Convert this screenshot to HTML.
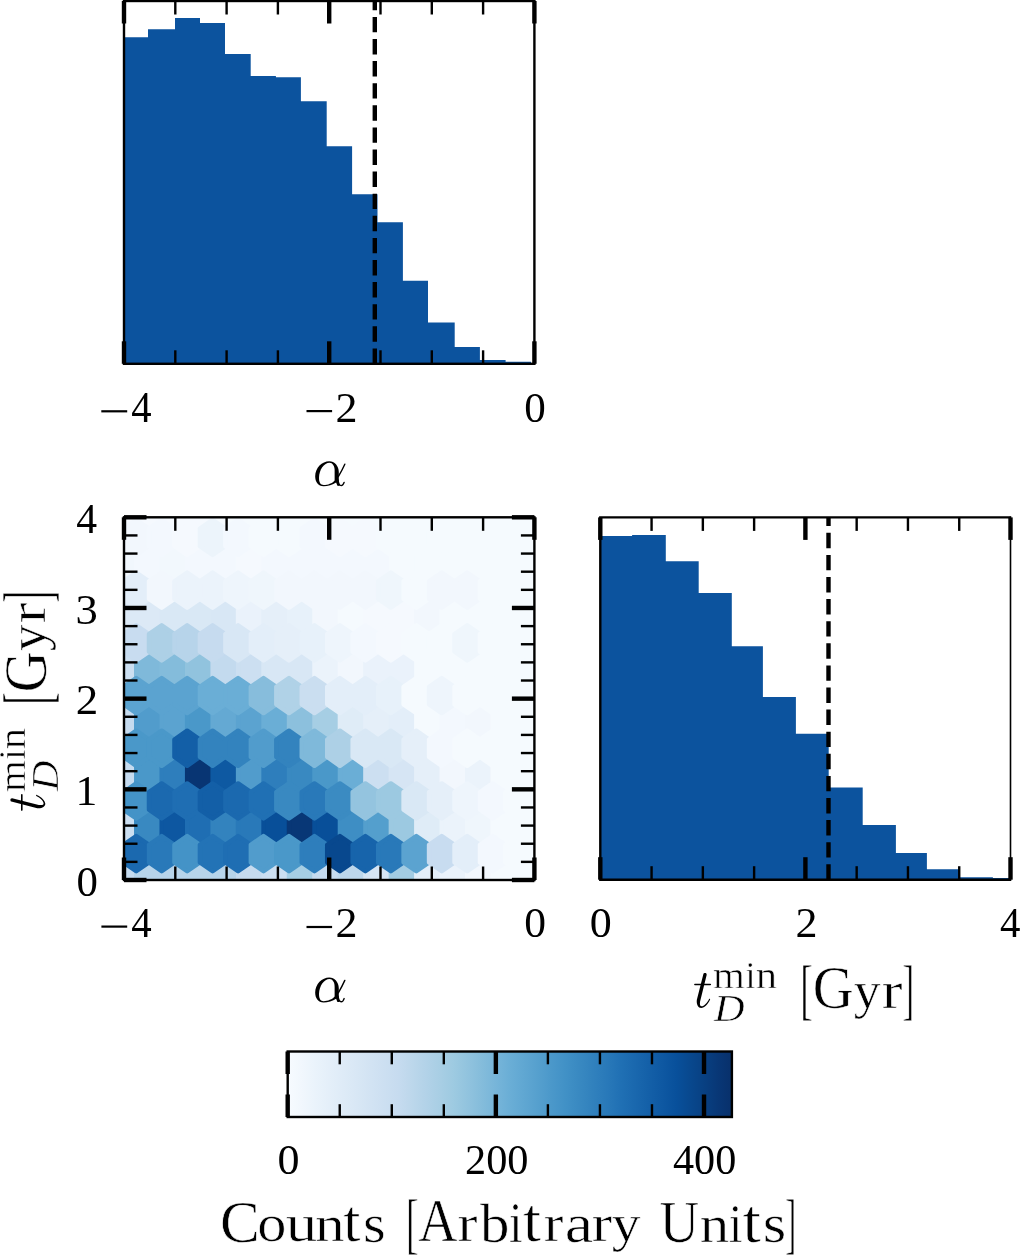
<!DOCTYPE html>
<html><head><meta charset="utf-8"><style>
html,body{margin:0;padding:0;background:#fff;}
svg{display:block;will-change:transform;}
</style></head><body>
<svg width="1020" height="1255" viewBox="0 0 1020 1255">
<defs><clipPath id="c1"><rect x="124.0" y="1.0" width="410.4" height="362.8"/></clipPath>
<clipPath id="c2"><rect x="124.0" y="517.3" width="410.4" height="362.7"/></clipPath>
<clipPath id="c3"><rect x="600.3" y="517.4" width="410.2" height="362.3"/></clipPath>
<linearGradient id="cg" x1="0" y1="0" x2="1" y2="0">
<stop offset="0.0000" stop-color="#f7fbff"/>
<stop offset="0.0312" stop-color="#f1f7fd"/>
<stop offset="0.0625" stop-color="#eaf3fb"/>
<stop offset="0.0938" stop-color="#e4eff9"/>
<stop offset="0.1250" stop-color="#deebf7"/>
<stop offset="0.1562" stop-color="#d8e7f5"/>
<stop offset="0.1875" stop-color="#d2e3f3"/>
<stop offset="0.2188" stop-color="#ccdff1"/>
<stop offset="0.2500" stop-color="#c6dbef"/>
<stop offset="0.2812" stop-color="#bcd7eb"/>
<stop offset="0.3125" stop-color="#b2d2e8"/>
<stop offset="0.3438" stop-color="#a8cee4"/>
<stop offset="0.3750" stop-color="#9dcae1"/>
<stop offset="0.4062" stop-color="#91c3de"/>
<stop offset="0.4375" stop-color="#84bcdb"/>
<stop offset="0.4688" stop-color="#77b5d9"/>
<stop offset="0.5000" stop-color="#6aaed6"/>
<stop offset="0.5312" stop-color="#60a7d2"/>
<stop offset="0.5625" stop-color="#56a0ce"/>
<stop offset="0.5938" stop-color="#4b98ca"/>
<stop offset="0.6250" stop-color="#4191c6"/>
<stop offset="0.6562" stop-color="#3989c1"/>
<stop offset="0.6875" stop-color="#3181bd"/>
<stop offset="0.7188" stop-color="#2979b9"/>
<stop offset="0.7500" stop-color="#2070b4"/>
<stop offset="0.7812" stop-color="#1a68ae"/>
<stop offset="0.8125" stop-color="#1460a8"/>
<stop offset="0.8438" stop-color="#0e58a2"/>
<stop offset="0.8750" stop-color="#08509b"/>
<stop offset="0.9062" stop-color="#08488e"/>
<stop offset="0.9375" stop-color="#084082"/>
<stop offset="0.9688" stop-color="#083776"/>
<stop offset="1.0000" stop-color="#08306b"/>
</linearGradient></defs>
<path d="M124.0,363.8 L124.0,37.2 L148.0,37.2 L148.0,29.3 L175.0,29.3 L175.0,18.0 L200.0,18.0 L200.0,23.0 L225.0,23.0 L225.0,54.0 L250.7,54.0 L250.7,76.1 L275.9,76.1 L275.9,77.2 L300.9,77.2 L300.9,101.3 L326.7,101.3 L326.7,146.2 L352.1,146.2 L352.1,194.2 L377.5,194.2 L377.5,222.2 L402.9,222.2 L402.9,280.7 L428.0,280.7 L428.0,322.4 L454.7,322.4 L454.7,346.9 L479.9,346.9 L479.9,360.0 L505.6,360.0 L505.6,361.8 L531.0,361.8 L531.0,363.8 Z" fill="#0c539e"/>
<line x1="374.8" y1="363.8" x2="374.8" y2="1.0" stroke="#000" stroke-width="4.4" stroke-dasharray="15.4 6.7"/>
<rect x="124.0" y="1.0" width="410.40" height="362.80" fill="none" stroke="#000" stroke-width="2.4"/>
<line x1="124.00" y1="363.8" x2="124.00" y2="341.3" stroke="#000" stroke-width="4.4"/>
<line x1="124.00" y1="1.0" x2="124.00" y2="23.5" stroke="#000" stroke-width="4.4"/>
<line x1="329.20" y1="363.8" x2="329.20" y2="341.3" stroke="#000" stroke-width="4.4"/>
<line x1="329.20" y1="1.0" x2="329.20" y2="23.5" stroke="#000" stroke-width="4.4"/>
<line x1="534.40" y1="363.8" x2="534.40" y2="341.3" stroke="#000" stroke-width="4.4"/>
<line x1="534.40" y1="1.0" x2="534.40" y2="23.5" stroke="#000" stroke-width="4.4"/>
<line x1="175.30" y1="363.8" x2="175.30" y2="350.3" stroke="#000" stroke-width="2.4"/>
<line x1="175.30" y1="1.0" x2="175.30" y2="14.5" stroke="#000" stroke-width="2.4"/>
<line x1="226.60" y1="363.8" x2="226.60" y2="350.3" stroke="#000" stroke-width="2.4"/>
<line x1="226.60" y1="1.0" x2="226.60" y2="14.5" stroke="#000" stroke-width="2.4"/>
<line x1="277.90" y1="363.8" x2="277.90" y2="350.3" stroke="#000" stroke-width="2.4"/>
<line x1="277.90" y1="1.0" x2="277.90" y2="14.5" stroke="#000" stroke-width="2.4"/>
<line x1="380.50" y1="363.8" x2="380.50" y2="350.3" stroke="#000" stroke-width="2.4"/>
<line x1="380.50" y1="1.0" x2="380.50" y2="14.5" stroke="#000" stroke-width="2.4"/>
<line x1="431.80" y1="363.8" x2="431.80" y2="350.3" stroke="#000" stroke-width="2.4"/>
<line x1="431.80" y1="1.0" x2="431.80" y2="14.5" stroke="#000" stroke-width="2.4"/>
<line x1="483.10" y1="363.8" x2="483.10" y2="350.3" stroke="#000" stroke-width="2.4"/>
<line x1="483.10" y1="1.0" x2="483.10" y2="14.5" stroke="#000" stroke-width="2.4"/>
<g clip-path="url(#c2)">
<rect x="124.0" y="517.3" width="410.4" height="362.70000000000005" fill="#fff"/>
<path d="M136.23,888.78 L136.23,871.22 L123.50,862.43 L110.77,871.22 L110.77,888.78 L123.50,897.57 Z" fill="#c6dbef" stroke="#c6dbef" stroke-width="4.4" stroke-linejoin="round"/>
<path d="M136.23,836.08 L136.23,818.52 L123.50,809.73 L110.77,818.52 L110.77,836.08 L123.50,844.87 Z" fill="#ccdff1" stroke="#ccdff1" stroke-width="4.4" stroke-linejoin="round"/>
<path d="M136.23,783.38 L136.23,765.82 L123.50,757.03 L110.77,765.82 L110.77,783.38 L123.50,792.17 Z" fill="#c6dbef" stroke="#c6dbef" stroke-width="4.4" stroke-linejoin="round"/>
<path d="M136.23,730.68 L136.23,713.12 L123.50,704.33 L110.77,713.12 L110.77,730.68 L123.50,739.47 Z" fill="#c6dbef" stroke="#c6dbef" stroke-width="4.4" stroke-linejoin="round"/>
<path d="M136.23,677.98 L136.23,660.42 L123.50,651.63 L110.77,660.42 L110.77,677.98 L123.50,686.77 Z" fill="#ccdff1" stroke="#ccdff1" stroke-width="4.4" stroke-linejoin="round"/>
<path d="M136.23,625.28 L136.23,607.72 L123.50,598.93 L110.77,607.72 L110.77,625.28 L123.50,634.07 Z" fill="#dce9f6" stroke="#dce9f6" stroke-width="4.4" stroke-linejoin="round"/>
<path d="M136.23,572.58 L136.23,555.02 L123.50,546.23 L110.77,555.02 L110.77,572.58 L123.50,581.37 Z" fill="#f1f7fd" stroke="#f1f7fd" stroke-width="4.4" stroke-linejoin="round"/>
<path d="M136.23,519.88 L136.23,502.32 L123.50,493.53 L110.77,502.32 L110.77,519.88 L123.50,528.67 Z" fill="#f5f9fe" stroke="#f5f9fe" stroke-width="4.4" stroke-linejoin="round"/>
<path d="M161.69,888.78 L161.69,871.22 L148.96,862.43 L136.23,871.22 L136.23,888.78 L148.96,897.57 Z" fill="#b7d4ea" stroke="#b7d4ea" stroke-width="4.4" stroke-linejoin="round"/>
<path d="M161.69,836.08 L161.69,818.52 L148.96,809.73 L136.23,818.52 L136.23,836.08 L148.96,844.87 Z" fill="#3989c1" stroke="#3989c1" stroke-width="4.4" stroke-linejoin="round"/>
<path d="M161.69,783.38 L161.69,765.82 L148.96,757.03 L136.23,765.82 L136.23,783.38 L148.96,792.17 Z" fill="#4a98c9" stroke="#4a98c9" stroke-width="4.4" stroke-linejoin="round"/>
<path d="M161.69,730.68 L161.69,713.12 L148.96,704.33 L136.23,713.12 L136.23,730.68 L148.96,739.47 Z" fill="#519ccc" stroke="#519ccc" stroke-width="4.4" stroke-linejoin="round"/>
<path d="M161.69,677.98 L161.69,660.42 L148.96,651.63 L136.23,660.42 L136.23,677.98 L148.96,686.77 Z" fill="#7fb9da" stroke="#7fb9da" stroke-width="4.4" stroke-linejoin="round"/>
<path d="M161.69,625.28 L161.69,607.72 L148.96,598.93 L136.23,607.72 L136.23,625.28 L148.96,634.07 Z" fill="#dce9f6" stroke="#dce9f6" stroke-width="4.4" stroke-linejoin="round"/>
<path d="M161.69,572.58 L161.69,555.02 L148.96,546.23 L136.23,555.02 L136.23,572.58 L148.96,581.37 Z" fill="#f3f8fe" stroke="#f3f8fe" stroke-width="4.4" stroke-linejoin="round"/>
<path d="M161.69,519.88 L161.69,502.32 L148.96,493.53 L136.23,502.32 L136.23,519.88 L148.96,528.67 Z" fill="#f5f9fe" stroke="#f5f9fe" stroke-width="4.4" stroke-linejoin="round"/>
<path d="M187.15,888.78 L187.15,871.22 L174.42,862.43 L161.69,871.22 L161.69,888.78 L174.42,897.57 Z" fill="#b7d4ea" stroke="#b7d4ea" stroke-width="4.4" stroke-linejoin="round"/>
<path d="M187.15,836.08 L187.15,818.52 L174.42,809.73 L161.69,818.52 L161.69,836.08 L174.42,844.87 Z" fill="#0d57a1" stroke="#0d57a1" stroke-width="4.4" stroke-linejoin="round"/>
<path d="M187.15,783.38 L187.15,765.82 L174.42,757.03 L161.69,765.82 L161.69,783.38 L174.42,792.17 Z" fill="#2e7ebc" stroke="#2e7ebc" stroke-width="4.4" stroke-linejoin="round"/>
<path d="M187.15,730.68 L187.15,713.12 L174.42,704.33 L161.69,713.12 L161.69,730.68 L174.42,739.47 Z" fill="#5ba3d0" stroke="#5ba3d0" stroke-width="4.4" stroke-linejoin="round"/>
<path d="M187.15,677.98 L187.15,660.42 L174.42,651.63 L161.69,660.42 L161.69,677.98 L174.42,686.77 Z" fill="#84bcdb" stroke="#84bcdb" stroke-width="4.4" stroke-linejoin="round"/>
<path d="M187.15,625.28 L187.15,607.72 L174.42,598.93 L161.69,607.72 L161.69,625.28 L174.42,634.07 Z" fill="#d9e8f5" stroke="#d9e8f5" stroke-width="4.4" stroke-linejoin="round"/>
<path d="M187.15,572.58 L187.15,555.02 L174.42,546.23 L161.69,555.02 L161.69,572.58 L174.42,581.37 Z" fill="#f2f8fd" stroke="#f2f8fd" stroke-width="4.4" stroke-linejoin="round"/>
<path d="M187.15,519.88 L187.15,502.32 L174.42,493.53 L161.69,502.32 L161.69,519.88 L174.42,528.67 Z" fill="#f5f9fe" stroke="#f5f9fe" stroke-width="4.4" stroke-linejoin="round"/>
<path d="M212.61,888.78 L212.61,871.22 L199.88,862.43 L187.15,871.22 L187.15,888.78 L199.88,897.57 Z" fill="#b7d4ea" stroke="#b7d4ea" stroke-width="4.4" stroke-linejoin="round"/>
<path d="M212.61,836.08 L212.61,818.52 L199.88,809.73 L187.15,818.52 L187.15,836.08 L199.88,844.87 Z" fill="#1f6eb3" stroke="#1f6eb3" stroke-width="4.4" stroke-linejoin="round"/>
<path d="M212.61,783.38 L212.61,765.82 L199.88,757.03 L187.15,765.82 L187.15,783.38 L199.88,792.17 Z" fill="#083573" stroke="#083573" stroke-width="4.4" stroke-linejoin="round"/>
<path d="M212.61,730.68 L212.61,713.12 L199.88,704.33 L187.15,713.12 L187.15,730.68 L199.88,739.47 Z" fill="#4a98c9" stroke="#4a98c9" stroke-width="4.4" stroke-linejoin="round"/>
<path d="M212.61,677.98 L212.61,660.42 L199.88,651.63 L187.15,660.42 L187.15,677.98 L199.88,686.77 Z" fill="#91c3de" stroke="#91c3de" stroke-width="4.4" stroke-linejoin="round"/>
<path d="M212.61,625.28 L212.61,607.72 L199.88,598.93 L187.15,607.72 L187.15,625.28 L199.88,634.07 Z" fill="#d9e8f5" stroke="#d9e8f5" stroke-width="4.4" stroke-linejoin="round"/>
<path d="M212.61,572.58 L212.61,555.02 L199.88,546.23 L187.15,555.02 L187.15,572.58 L199.88,581.37 Z" fill="#f3f8fe" stroke="#f3f8fe" stroke-width="4.4" stroke-linejoin="round"/>
<path d="M212.61,519.88 L212.61,502.32 L199.88,493.53 L187.15,502.32 L187.15,519.88 L199.88,528.67 Z" fill="#f5f9fe" stroke="#f5f9fe" stroke-width="4.4" stroke-linejoin="round"/>
<path d="M238.07,888.78 L238.07,871.22 L225.34,862.43 L212.61,871.22 L212.61,888.78 L225.34,897.57 Z" fill="#b7d4ea" stroke="#b7d4ea" stroke-width="4.4" stroke-linejoin="round"/>
<path d="M238.07,836.08 L238.07,818.52 L225.34,809.73 L212.61,818.52 L212.61,836.08 L225.34,844.87 Z" fill="#3383be" stroke="#3383be" stroke-width="4.4" stroke-linejoin="round"/>
<path d="M238.07,783.38 L238.07,765.82 L225.34,757.03 L212.61,765.82 L212.61,783.38 L225.34,792.17 Z" fill="#0e59a2" stroke="#0e59a2" stroke-width="4.4" stroke-linejoin="round"/>
<path d="M238.07,730.68 L238.07,713.12 L225.34,704.33 L212.61,713.12 L212.61,730.68 L225.34,739.47 Z" fill="#64a9d3" stroke="#64a9d3" stroke-width="4.4" stroke-linejoin="round"/>
<path d="M238.07,677.98 L238.07,660.42 L225.34,651.63 L212.61,660.42 L212.61,677.98 L225.34,686.77 Z" fill="#c3daee" stroke="#c3daee" stroke-width="4.4" stroke-linejoin="round"/>
<path d="M238.07,625.28 L238.07,607.72 L225.34,598.93 L212.61,607.72 L212.61,625.28 L225.34,634.07 Z" fill="#d8e7f5" stroke="#d8e7f5" stroke-width="4.4" stroke-linejoin="round"/>
<path d="M238.07,572.58 L238.07,555.02 L225.34,546.23 L212.61,555.02 L212.61,572.58 L225.34,581.37 Z" fill="#f3f8fe" stroke="#f3f8fe" stroke-width="4.4" stroke-linejoin="round"/>
<path d="M238.07,519.88 L238.07,502.32 L225.34,493.53 L212.61,502.32 L212.61,519.88 L225.34,528.67 Z" fill="#f5fafe" stroke="#f5fafe" stroke-width="4.4" stroke-linejoin="round"/>
<path d="M263.53,888.78 L263.53,871.22 L250.80,862.43 L238.07,871.22 L238.07,888.78 L250.80,897.57 Z" fill="#c6dbef" stroke="#c6dbef" stroke-width="4.4" stroke-linejoin="round"/>
<path d="M263.53,836.08 L263.53,818.52 L250.80,809.73 L238.07,818.52 L238.07,836.08 L250.80,844.87 Z" fill="#2979b9" stroke="#2979b9" stroke-width="4.4" stroke-linejoin="round"/>
<path d="M263.53,783.38 L263.53,765.82 L250.80,757.03 L238.07,765.82 L238.07,783.38 L250.80,792.17 Z" fill="#519ccc" stroke="#519ccc" stroke-width="4.4" stroke-linejoin="round"/>
<path d="M263.53,730.68 L263.53,713.12 L250.80,704.33 L238.07,713.12 L238.07,730.68 L250.80,739.47 Z" fill="#5ba3d0" stroke="#5ba3d0" stroke-width="4.4" stroke-linejoin="round"/>
<path d="M263.53,677.98 L263.53,660.42 L250.80,651.63 L238.07,660.42 L238.07,677.98 L250.80,686.77 Z" fill="#ccdff1" stroke="#ccdff1" stroke-width="4.4" stroke-linejoin="round"/>
<path d="M263.53,625.28 L263.53,607.72 L250.80,598.93 L238.07,607.72 L238.07,625.28 L250.80,634.07 Z" fill="#eaf2fb" stroke="#eaf2fb" stroke-width="4.4" stroke-linejoin="round"/>
<path d="M263.53,572.58 L263.53,555.02 L250.80,546.23 L238.07,555.02 L238.07,572.58 L250.80,581.37 Z" fill="#f5f9fe" stroke="#f5f9fe" stroke-width="4.4" stroke-linejoin="round"/>
<path d="M263.53,519.88 L263.53,502.32 L250.80,493.53 L238.07,502.32 L238.07,519.88 L250.80,528.67 Z" fill="#f5fafe" stroke="#f5fafe" stroke-width="4.4" stroke-linejoin="round"/>
<path d="M288.99,888.78 L288.99,871.22 L276.26,862.43 L263.53,871.22 L263.53,888.78 L276.26,897.57 Z" fill="#ccdff1" stroke="#ccdff1" stroke-width="4.4" stroke-linejoin="round"/>
<path d="M288.99,836.08 L288.99,818.52 L276.26,809.73 L263.53,818.52 L263.53,836.08 L276.26,844.87 Z" fill="#084f99" stroke="#084f99" stroke-width="4.4" stroke-linejoin="round"/>
<path d="M288.99,783.38 L288.99,765.82 L276.26,757.03 L263.53,765.82 L263.53,783.38 L276.26,792.17 Z" fill="#2e7ebc" stroke="#2e7ebc" stroke-width="4.4" stroke-linejoin="round"/>
<path d="M288.99,730.68 L288.99,713.12 L276.26,704.33 L263.53,713.12 L263.53,730.68 L276.26,739.47 Z" fill="#6aaed6" stroke="#6aaed6" stroke-width="4.4" stroke-linejoin="round"/>
<path d="M288.99,677.98 L288.99,660.42 L276.26,651.63 L263.53,660.42 L263.53,677.98 L276.26,686.77 Z" fill="#d8e7f5" stroke="#d8e7f5" stroke-width="4.4" stroke-linejoin="round"/>
<path d="M288.99,625.28 L288.99,607.72 L276.26,598.93 L263.53,607.72 L263.53,625.28 L276.26,634.07 Z" fill="#e5eff9" stroke="#e5eff9" stroke-width="4.4" stroke-linejoin="round"/>
<path d="M288.99,572.58 L288.99,555.02 L276.26,546.23 L263.53,555.02 L263.53,572.58 L276.26,581.37 Z" fill="#f3f8fe" stroke="#f3f8fe" stroke-width="4.4" stroke-linejoin="round"/>
<path d="M288.99,519.88 L288.99,502.32 L276.26,493.53 L263.53,502.32 L263.53,519.88 L276.26,528.67 Z" fill="#f5fafe" stroke="#f5fafe" stroke-width="4.4" stroke-linejoin="round"/>
<path d="M314.45,888.78 L314.45,871.22 L301.72,862.43 L288.99,871.22 L288.99,888.78 L301.72,897.57 Z" fill="#a6cee4" stroke="#a6cee4" stroke-width="4.4" stroke-linejoin="round"/>
<path d="M314.45,836.08 L314.45,818.52 L301.72,809.73 L288.99,818.52 L288.99,836.08 L301.72,844.87 Z" fill="#083776" stroke="#083776" stroke-width="4.4" stroke-linejoin="round"/>
<path d="M314.45,783.38 L314.45,765.82 L301.72,757.03 L288.99,765.82 L288.99,783.38 L301.72,792.17 Z" fill="#3989c1" stroke="#3989c1" stroke-width="4.4" stroke-linejoin="round"/>
<path d="M314.45,730.68 L314.45,713.12 L301.72,704.33 L288.99,713.12 L288.99,730.68 L301.72,739.47 Z" fill="#8cc0dd" stroke="#8cc0dd" stroke-width="4.4" stroke-linejoin="round"/>
<path d="M314.45,677.98 L314.45,660.42 L301.72,651.63 L288.99,660.42 L288.99,677.98 L301.72,686.77 Z" fill="#d8e7f5" stroke="#d8e7f5" stroke-width="4.4" stroke-linejoin="round"/>
<path d="M314.45,625.28 L314.45,607.72 L301.72,598.93 L288.99,607.72 L288.99,625.28 L301.72,634.07 Z" fill="#e7f1fa" stroke="#e7f1fa" stroke-width="4.4" stroke-linejoin="round"/>
<path d="M314.45,572.58 L314.45,555.02 L301.72,546.23 L288.99,555.02 L288.99,572.58 L301.72,581.37 Z" fill="#f3f8fe" stroke="#f3f8fe" stroke-width="4.4" stroke-linejoin="round"/>
<path d="M314.45,519.88 L314.45,502.32 L301.72,493.53 L288.99,502.32 L288.99,519.88 L301.72,528.67 Z" fill="#f5fafe" stroke="#f5fafe" stroke-width="4.4" stroke-linejoin="round"/>
<path d="M339.91,888.78 L339.91,871.22 L327.18,862.43 L314.45,871.22 L314.45,888.78 L327.18,897.57 Z" fill="#c6dbef" stroke="#c6dbef" stroke-width="4.4" stroke-linejoin="round"/>
<path d="M339.91,836.08 L339.91,818.52 L327.18,809.73 L314.45,818.52 L314.45,836.08 L327.18,844.87 Z" fill="#084f99" stroke="#084f99" stroke-width="4.4" stroke-linejoin="round"/>
<path d="M339.91,783.38 L339.91,765.82 L327.18,757.03 L314.45,765.82 L314.45,783.38 L327.18,792.17 Z" fill="#4a98c9" stroke="#4a98c9" stroke-width="4.4" stroke-linejoin="round"/>
<path d="M339.91,730.68 L339.91,713.12 L327.18,704.33 L314.45,713.12 L314.45,730.68 L327.18,739.47 Z" fill="#a6cee4" stroke="#a6cee4" stroke-width="4.4" stroke-linejoin="round"/>
<path d="M339.91,677.98 L339.91,660.42 L327.18,651.63 L314.45,660.42 L314.45,677.98 L327.18,686.77 Z" fill="#ebf3fb" stroke="#ebf3fb" stroke-width="4.4" stroke-linejoin="round"/>
<path d="M339.91,625.28 L339.91,607.72 L327.18,598.93 L314.45,607.72 L314.45,625.28 L327.18,634.07 Z" fill="#f2f7fd" stroke="#f2f7fd" stroke-width="4.4" stroke-linejoin="round"/>
<path d="M339.91,572.58 L339.91,555.02 L327.18,546.23 L314.45,555.02 L314.45,572.58 L327.18,581.37 Z" fill="#f3f8fe" stroke="#f3f8fe" stroke-width="4.4" stroke-linejoin="round"/>
<path d="M339.91,519.88 L339.91,502.32 L327.18,493.53 L314.45,502.32 L314.45,519.88 L327.18,528.67 Z" fill="#f5fafe" stroke="#f5fafe" stroke-width="4.4" stroke-linejoin="round"/>
<path d="M365.37,888.78 L365.37,871.22 L352.64,862.43 L339.91,871.22 L339.91,888.78 L352.64,897.57 Z" fill="#bdd7ec" stroke="#bdd7ec" stroke-width="4.4" stroke-linejoin="round"/>
<path d="M365.37,836.08 L365.37,818.52 L352.64,809.73 L339.91,818.52 L339.91,836.08 L352.64,844.87 Z" fill="#3e8ec4" stroke="#3e8ec4" stroke-width="4.4" stroke-linejoin="round"/>
<path d="M365.37,783.38 L365.37,765.82 L352.64,757.03 L339.91,765.82 L339.91,783.38 L352.64,792.17 Z" fill="#6aaed6" stroke="#6aaed6" stroke-width="4.4" stroke-linejoin="round"/>
<path d="M365.37,730.68 L365.37,713.12 L352.64,704.33 L339.91,713.12 L339.91,730.68 L352.64,739.47 Z" fill="#dfecf7" stroke="#dfecf7" stroke-width="4.4" stroke-linejoin="round"/>
<path d="M365.37,677.98 L365.37,660.42 L352.64,651.63 L339.91,660.42 L339.91,677.98 L352.64,686.77 Z" fill="#f2f7fd" stroke="#f2f7fd" stroke-width="4.4" stroke-linejoin="round"/>
<path d="M365.37,625.28 L365.37,607.72 L352.64,598.93 L339.91,607.72 L339.91,625.28 L352.64,634.07 Z" fill="#f5fafe" stroke="#f5fafe" stroke-width="4.4" stroke-linejoin="round"/>
<path d="M365.37,572.58 L365.37,555.02 L352.64,546.23 L339.91,555.02 L339.91,572.58 L352.64,581.37 Z" fill="#f3f8fe" stroke="#f3f8fe" stroke-width="4.4" stroke-linejoin="round"/>
<path d="M365.37,519.88 L365.37,502.32 L352.64,493.53 L339.91,502.32 L339.91,519.88 L352.64,528.67 Z" fill="#f5fafe" stroke="#f5fafe" stroke-width="4.4" stroke-linejoin="round"/>
<path d="M390.83,888.78 L390.83,871.22 L378.10,862.43 L365.37,871.22 L365.37,888.78 L378.10,897.57 Z" fill="#d6e5f4" stroke="#d6e5f4" stroke-width="4.4" stroke-linejoin="round"/>
<path d="M390.83,836.08 L390.83,818.52 L378.10,809.73 L365.37,818.52 L365.37,836.08 L378.10,844.87 Z" fill="#549fcd" stroke="#549fcd" stroke-width="4.4" stroke-linejoin="round"/>
<path d="M390.83,783.38 L390.83,765.82 L378.10,757.03 L365.37,765.82 L365.37,783.38 L378.10,792.17 Z" fill="#ccdff1" stroke="#ccdff1" stroke-width="4.4" stroke-linejoin="round"/>
<path d="M390.83,730.68 L390.83,713.12 L378.10,704.33 L365.37,713.12 L365.37,730.68 L378.10,739.47 Z" fill="#e5eff9" stroke="#e5eff9" stroke-width="4.4" stroke-linejoin="round"/>
<path d="M390.83,677.98 L390.83,660.42 L378.10,651.63 L365.37,660.42 L365.37,677.98 L378.10,686.77 Z" fill="#eaf2fb" stroke="#eaf2fb" stroke-width="4.4" stroke-linejoin="round"/>
<path d="M390.83,625.28 L390.83,607.72 L378.10,598.93 L365.37,607.72 L365.37,625.28 L378.10,634.07 Z" fill="#f5f9fe" stroke="#f5f9fe" stroke-width="4.4" stroke-linejoin="round"/>
<path d="M390.83,572.58 L390.83,555.02 L378.10,546.23 L365.37,555.02 L365.37,572.58 L378.10,581.37 Z" fill="#f3f8fe" stroke="#f3f8fe" stroke-width="4.4" stroke-linejoin="round"/>
<path d="M390.83,519.88 L390.83,502.32 L378.10,493.53 L365.37,502.32 L365.37,519.88 L378.10,528.67 Z" fill="#f5fafe" stroke="#f5fafe" stroke-width="4.4" stroke-linejoin="round"/>
<path d="M416.29,888.78 L416.29,871.22 L403.56,862.43 L390.83,871.22 L390.83,888.78 L403.56,897.57 Z" fill="#a3cce3" stroke="#a3cce3" stroke-width="4.4" stroke-linejoin="round"/>
<path d="M416.29,836.08 L416.29,818.52 L403.56,809.73 L390.83,818.52 L390.83,836.08 L403.56,844.87 Z" fill="#9cc9e1" stroke="#9cc9e1" stroke-width="4.4" stroke-linejoin="round"/>
<path d="M416.29,783.38 L416.29,765.82 L403.56,757.03 L390.83,765.82 L390.83,783.38 L403.56,792.17 Z" fill="#d6e5f4" stroke="#d6e5f4" stroke-width="4.4" stroke-linejoin="round"/>
<path d="M416.29,730.68 L416.29,713.12 L403.56,704.33 L390.83,713.12 L390.83,730.68 L403.56,739.47 Z" fill="#e3eef9" stroke="#e3eef9" stroke-width="4.4" stroke-linejoin="round"/>
<path d="M416.29,677.98 L416.29,660.42 L403.56,651.63 L390.83,660.42 L390.83,677.98 L403.56,686.77 Z" fill="#eaf2fb" stroke="#eaf2fb" stroke-width="4.4" stroke-linejoin="round"/>
<path d="M416.29,625.28 L416.29,607.72 L403.56,598.93 L390.83,607.72 L390.83,625.28 L403.56,634.07 Z" fill="#f5f9fe" stroke="#f5f9fe" stroke-width="4.4" stroke-linejoin="round"/>
<path d="M416.29,572.58 L416.29,555.02 L403.56,546.23 L390.83,555.02 L390.83,572.58 L403.56,581.37 Z" fill="#f5fafe" stroke="#f5fafe" stroke-width="4.4" stroke-linejoin="round"/>
<path d="M416.29,519.88 L416.29,502.32 L403.56,493.53 L390.83,502.32 L390.83,519.88 L403.56,528.67 Z" fill="#f5fafe" stroke="#f5fafe" stroke-width="4.4" stroke-linejoin="round"/>
<path d="M441.75,888.78 L441.75,871.22 L429.02,862.43 L416.29,871.22 L416.29,888.78 L429.02,897.57 Z" fill="#e3eef9" stroke="#e3eef9" stroke-width="4.4" stroke-linejoin="round"/>
<path d="M441.75,836.08 L441.75,818.52 L429.02,809.73 L416.29,818.52 L416.29,836.08 L429.02,844.87 Z" fill="#dfecf7" stroke="#dfecf7" stroke-width="4.4" stroke-linejoin="round"/>
<path d="M441.75,783.38 L441.75,765.82 L429.02,757.03 L416.29,765.82 L416.29,783.38 L429.02,792.17 Z" fill="#e5eff9" stroke="#e5eff9" stroke-width="4.4" stroke-linejoin="round"/>
<path d="M441.75,730.68 L441.75,713.12 L429.02,704.33 L416.29,713.12 L416.29,730.68 L429.02,739.47 Z" fill="#f5fafe" stroke="#f5fafe" stroke-width="4.4" stroke-linejoin="round"/>
<path d="M441.75,677.98 L441.75,660.42 L429.02,651.63 L416.29,660.42 L416.29,677.98 L429.02,686.77 Z" fill="#f5fafe" stroke="#f5fafe" stroke-width="4.4" stroke-linejoin="round"/>
<path d="M441.75,625.28 L441.75,607.72 L429.02,598.93 L416.29,607.72 L416.29,625.28 L429.02,634.07 Z" fill="#f2f7fd" stroke="#f2f7fd" stroke-width="4.4" stroke-linejoin="round"/>
<path d="M441.75,572.58 L441.75,555.02 L429.02,546.23 L416.29,555.02 L416.29,572.58 L429.02,581.37 Z" fill="#f5fafe" stroke="#f5fafe" stroke-width="4.4" stroke-linejoin="round"/>
<path d="M441.75,519.88 L441.75,502.32 L429.02,493.53 L416.29,502.32 L416.29,519.88 L429.02,528.67 Z" fill="#f5fafe" stroke="#f5fafe" stroke-width="4.4" stroke-linejoin="round"/>
<path d="M467.21,888.78 L467.21,871.22 L454.48,862.43 L441.75,871.22 L441.75,888.78 L454.48,897.57 Z" fill="#eaf2fb" stroke="#eaf2fb" stroke-width="4.4" stroke-linejoin="round"/>
<path d="M467.21,836.08 L467.21,818.52 L454.48,809.73 L441.75,818.52 L441.75,836.08 L454.48,844.87 Z" fill="#ebf3fb" stroke="#ebf3fb" stroke-width="4.4" stroke-linejoin="round"/>
<path d="M467.21,783.38 L467.21,765.82 L454.48,757.03 L441.75,765.82 L441.75,783.38 L454.48,792.17 Z" fill="#f2f7fd" stroke="#f2f7fd" stroke-width="4.4" stroke-linejoin="round"/>
<path d="M467.21,730.68 L467.21,713.12 L454.48,704.33 L441.75,713.12 L441.75,730.68 L454.48,739.47 Z" fill="#f3f8fe" stroke="#f3f8fe" stroke-width="4.4" stroke-linejoin="round"/>
<path d="M467.21,677.98 L467.21,660.42 L454.48,651.63 L441.75,660.42 L441.75,677.98 L454.48,686.77 Z" fill="#f5fafe" stroke="#f5fafe" stroke-width="4.4" stroke-linejoin="round"/>
<path d="M467.21,625.28 L467.21,607.72 L454.48,598.93 L441.75,607.72 L441.75,625.28 L454.48,634.07 Z" fill="#f5fafe" stroke="#f5fafe" stroke-width="4.4" stroke-linejoin="round"/>
<path d="M467.21,572.58 L467.21,555.02 L454.48,546.23 L441.75,555.02 L441.75,572.58 L454.48,581.37 Z" fill="#f5fafe" stroke="#f5fafe" stroke-width="4.4" stroke-linejoin="round"/>
<path d="M467.21,519.88 L467.21,502.32 L454.48,493.53 L441.75,502.32 L441.75,519.88 L454.48,528.67 Z" fill="#f5fafe" stroke="#f5fafe" stroke-width="4.4" stroke-linejoin="round"/>
<path d="M492.67,888.78 L492.67,871.22 L479.94,862.43 L467.21,871.22 L467.21,888.78 L479.94,897.57 Z" fill="#f2f7fd" stroke="#f2f7fd" stroke-width="4.4" stroke-linejoin="round"/>
<path d="M492.67,836.08 L492.67,818.52 L479.94,809.73 L467.21,818.52 L467.21,836.08 L479.94,844.87 Z" fill="#eff6fc" stroke="#eff6fc" stroke-width="4.4" stroke-linejoin="round"/>
<path d="M492.67,783.38 L492.67,765.82 L479.94,757.03 L467.21,765.82 L467.21,783.38 L479.94,792.17 Z" fill="#ebf3fb" stroke="#ebf3fb" stroke-width="4.4" stroke-linejoin="round"/>
<path d="M492.67,730.68 L492.67,713.12 L479.94,704.33 L467.21,713.12 L467.21,730.68 L479.94,739.47 Z" fill="#f2f7fd" stroke="#f2f7fd" stroke-width="4.4" stroke-linejoin="round"/>
<path d="M492.67,677.98 L492.67,660.42 L479.94,651.63 L467.21,660.42 L467.21,677.98 L479.94,686.77 Z" fill="#f5fafe" stroke="#f5fafe" stroke-width="4.4" stroke-linejoin="round"/>
<path d="M492.67,625.28 L492.67,607.72 L479.94,598.93 L467.21,607.72 L467.21,625.28 L479.94,634.07 Z" fill="#f5fafe" stroke="#f5fafe" stroke-width="4.4" stroke-linejoin="round"/>
<path d="M492.67,572.58 L492.67,555.02 L479.94,546.23 L467.21,555.02 L467.21,572.58 L479.94,581.37 Z" fill="#f5fafe" stroke="#f5fafe" stroke-width="4.4" stroke-linejoin="round"/>
<path d="M492.67,519.88 L492.67,502.32 L479.94,493.53 L467.21,502.32 L467.21,519.88 L479.94,528.67 Z" fill="#f5fafe" stroke="#f5fafe" stroke-width="4.4" stroke-linejoin="round"/>
<path d="M518.13,888.78 L518.13,871.22 L505.40,862.43 L492.67,871.22 L492.67,888.78 L505.40,897.57 Z" fill="#f5fafe" stroke="#f5fafe" stroke-width="4.4" stroke-linejoin="round"/>
<path d="M518.13,836.08 L518.13,818.52 L505.40,809.73 L492.67,818.52 L492.67,836.08 L505.40,844.87 Z" fill="#f5fafe" stroke="#f5fafe" stroke-width="4.4" stroke-linejoin="round"/>
<path d="M518.13,783.38 L518.13,765.82 L505.40,757.03 L492.67,765.82 L492.67,783.38 L505.40,792.17 Z" fill="#f5fafe" stroke="#f5fafe" stroke-width="4.4" stroke-linejoin="round"/>
<path d="M518.13,730.68 L518.13,713.12 L505.40,704.33 L492.67,713.12 L492.67,730.68 L505.40,739.47 Z" fill="#f5fafe" stroke="#f5fafe" stroke-width="4.4" stroke-linejoin="round"/>
<path d="M518.13,677.98 L518.13,660.42 L505.40,651.63 L492.67,660.42 L492.67,677.98 L505.40,686.77 Z" fill="#f5fafe" stroke="#f5fafe" stroke-width="4.4" stroke-linejoin="round"/>
<path d="M518.13,625.28 L518.13,607.72 L505.40,598.93 L492.67,607.72 L492.67,625.28 L505.40,634.07 Z" fill="#f5fafe" stroke="#f5fafe" stroke-width="4.4" stroke-linejoin="round"/>
<path d="M518.13,572.58 L518.13,555.02 L505.40,546.23 L492.67,555.02 L492.67,572.58 L505.40,581.37 Z" fill="#f5fafe" stroke="#f5fafe" stroke-width="4.4" stroke-linejoin="round"/>
<path d="M518.13,519.88 L518.13,502.32 L505.40,493.53 L492.67,502.32 L492.67,519.88 L505.40,528.67 Z" fill="#f5fafe" stroke="#f5fafe" stroke-width="4.4" stroke-linejoin="round"/>
<path d="M543.59,888.78 L543.59,871.22 L530.86,862.43 L518.13,871.22 L518.13,888.78 L530.86,897.57 Z" fill="#f5fafe" stroke="#f5fafe" stroke-width="4.4" stroke-linejoin="round"/>
<path d="M543.59,836.08 L543.59,818.52 L530.86,809.73 L518.13,818.52 L518.13,836.08 L530.86,844.87 Z" fill="#f5fafe" stroke="#f5fafe" stroke-width="4.4" stroke-linejoin="round"/>
<path d="M543.59,783.38 L543.59,765.82 L530.86,757.03 L518.13,765.82 L518.13,783.38 L530.86,792.17 Z" fill="#f5fafe" stroke="#f5fafe" stroke-width="4.4" stroke-linejoin="round"/>
<path d="M543.59,730.68 L543.59,713.12 L530.86,704.33 L518.13,713.12 L518.13,730.68 L530.86,739.47 Z" fill="#f5fafe" stroke="#f5fafe" stroke-width="4.4" stroke-linejoin="round"/>
<path d="M543.59,677.98 L543.59,660.42 L530.86,651.63 L518.13,660.42 L518.13,677.98 L530.86,686.77 Z" fill="#f5fafe" stroke="#f5fafe" stroke-width="4.4" stroke-linejoin="round"/>
<path d="M543.59,625.28 L543.59,607.72 L530.86,598.93 L518.13,607.72 L518.13,625.28 L530.86,634.07 Z" fill="#f5fafe" stroke="#f5fafe" stroke-width="4.4" stroke-linejoin="round"/>
<path d="M543.59,572.58 L543.59,555.02 L530.86,546.23 L518.13,555.02 L518.13,572.58 L530.86,581.37 Z" fill="#f5fafe" stroke="#f5fafe" stroke-width="4.4" stroke-linejoin="round"/>
<path d="M543.59,519.88 L543.59,502.32 L530.86,493.53 L518.13,502.32 L518.13,519.88 L530.86,528.67 Z" fill="#f5fafe" stroke="#f5fafe" stroke-width="4.4" stroke-linejoin="round"/>
<path d="M148.96,862.43 L148.96,844.87 L136.23,836.08 L123.50,844.87 L123.50,862.43 L136.23,871.22 Z" fill="#1b69af" stroke="#1b69af" stroke-width="4.4" stroke-linejoin="round"/>
<path d="M148.96,809.73 L148.96,792.17 L136.23,783.38 L123.50,792.17 L123.50,809.73 L136.23,818.52 Z" fill="#4493c7" stroke="#4493c7" stroke-width="4.4" stroke-linejoin="round"/>
<path d="M148.96,757.03 L148.96,739.47 L136.23,730.68 L123.50,739.47 L123.50,757.03 L136.23,765.82 Z" fill="#4a98c9" stroke="#4a98c9" stroke-width="4.4" stroke-linejoin="round"/>
<path d="M148.96,704.33 L148.96,686.77 L136.23,677.98 L123.50,686.77 L123.50,704.33 L136.23,713.12 Z" fill="#5ba3d0" stroke="#5ba3d0" stroke-width="4.4" stroke-linejoin="round"/>
<path d="M148.96,651.63 L148.96,634.07 L136.23,625.28 L123.50,634.07 L123.50,651.63 L136.23,660.42 Z" fill="#c8dcf0" stroke="#c8dcf0" stroke-width="4.4" stroke-linejoin="round"/>
<path d="M148.96,598.93 L148.96,581.37 L136.23,572.58 L123.50,581.37 L123.50,598.93 L136.23,607.72 Z" fill="#e3eef9" stroke="#e3eef9" stroke-width="4.4" stroke-linejoin="round"/>
<path d="M148.96,546.23 L148.96,528.67 L136.23,519.88 L123.50,528.67 L123.50,546.23 L136.23,555.02 Z" fill="#f2f7fd" stroke="#f2f7fd" stroke-width="4.4" stroke-linejoin="round"/>
<path d="M174.42,862.43 L174.42,844.87 L161.69,836.08 L148.96,844.87 L148.96,862.43 L161.69,871.22 Z" fill="#2979b9" stroke="#2979b9" stroke-width="4.4" stroke-linejoin="round"/>
<path d="M174.42,809.73 L174.42,792.17 L161.69,783.38 L148.96,792.17 L148.96,809.73 L161.69,818.52 Z" fill="#1b69af" stroke="#1b69af" stroke-width="4.4" stroke-linejoin="round"/>
<path d="M174.42,757.03 L174.42,739.47 L161.69,730.68 L148.96,739.47 L148.96,757.03 L161.69,765.82 Z" fill="#4a98c9" stroke="#4a98c9" stroke-width="4.4" stroke-linejoin="round"/>
<path d="M174.42,704.33 L174.42,686.77 L161.69,677.98 L148.96,686.77 L148.96,704.33 L161.69,713.12 Z" fill="#5ba3d0" stroke="#5ba3d0" stroke-width="4.4" stroke-linejoin="round"/>
<path d="M174.42,651.63 L174.42,634.07 L161.69,625.28 L148.96,634.07 L148.96,651.63 L161.69,660.42 Z" fill="#add0e6" stroke="#add0e6" stroke-width="4.4" stroke-linejoin="round"/>
<path d="M174.42,598.93 L174.42,581.37 L161.69,572.58 L148.96,581.37 L148.96,598.93 L161.69,607.72 Z" fill="#f2f7fd" stroke="#f2f7fd" stroke-width="4.4" stroke-linejoin="round"/>
<path d="M174.42,546.23 L174.42,528.67 L161.69,519.88 L148.96,528.67 L148.96,546.23 L161.69,555.02 Z" fill="#f3f8fe" stroke="#f3f8fe" stroke-width="4.4" stroke-linejoin="round"/>
<path d="M199.88,862.43 L199.88,844.87 L187.15,836.08 L174.42,844.87 L174.42,862.43 L187.15,871.22 Z" fill="#4493c7" stroke="#4493c7" stroke-width="4.4" stroke-linejoin="round"/>
<path d="M199.88,809.73 L199.88,792.17 L187.15,783.38 L174.42,792.17 L174.42,809.73 L187.15,818.52 Z" fill="#1f6eb3" stroke="#1f6eb3" stroke-width="4.4" stroke-linejoin="round"/>
<path d="M199.88,757.03 L199.88,739.47 L187.15,730.68 L174.42,739.47 L174.42,757.03 L187.15,765.82 Z" fill="#135fa7" stroke="#135fa7" stroke-width="4.4" stroke-linejoin="round"/>
<path d="M199.88,704.33 L199.88,686.77 L187.15,677.98 L174.42,686.77 L174.42,704.33 L187.15,713.12 Z" fill="#5ba3d0" stroke="#5ba3d0" stroke-width="4.4" stroke-linejoin="round"/>
<path d="M199.88,651.63 L199.88,634.07 L187.15,625.28 L174.42,634.07 L174.42,651.63 L187.15,660.42 Z" fill="#b7d4ea" stroke="#b7d4ea" stroke-width="4.4" stroke-linejoin="round"/>
<path d="M199.88,598.93 L199.88,581.37 L187.15,572.58 L174.42,581.37 L174.42,598.93 L187.15,607.72 Z" fill="#ebf3fb" stroke="#ebf3fb" stroke-width="4.4" stroke-linejoin="round"/>
<path d="M199.88,546.23 L199.88,528.67 L187.15,519.88 L174.42,528.67 L174.42,546.23 L187.15,555.02 Z" fill="#f5f9fe" stroke="#f5f9fe" stroke-width="4.4" stroke-linejoin="round"/>
<path d="M225.34,862.43 L225.34,844.87 L212.61,836.08 L199.88,844.87 L199.88,862.43 L212.61,871.22 Z" fill="#2373b6" stroke="#2373b6" stroke-width="4.4" stroke-linejoin="round"/>
<path d="M225.34,809.73 L225.34,792.17 L212.61,783.38 L199.88,792.17 L199.88,809.73 L212.61,818.52 Z" fill="#135fa7" stroke="#135fa7" stroke-width="4.4" stroke-linejoin="round"/>
<path d="M225.34,757.03 L225.34,739.47 L212.61,730.68 L199.88,739.47 L199.88,757.03 L212.61,765.82 Z" fill="#3383be" stroke="#3383be" stroke-width="4.4" stroke-linejoin="round"/>
<path d="M225.34,704.33 L225.34,686.77 L212.61,677.98 L199.88,686.77 L199.88,704.33 L212.61,713.12 Z" fill="#6aaed6" stroke="#6aaed6" stroke-width="4.4" stroke-linejoin="round"/>
<path d="M225.34,651.63 L225.34,634.07 L212.61,625.28 L199.88,634.07 L199.88,651.63 L212.61,660.42 Z" fill="#c6dbef" stroke="#c6dbef" stroke-width="4.4" stroke-linejoin="round"/>
<path d="M225.34,598.93 L225.34,581.37 L212.61,572.58 L199.88,581.37 L199.88,598.93 L212.61,607.72 Z" fill="#ebf3fb" stroke="#ebf3fb" stroke-width="4.4" stroke-linejoin="round"/>
<path d="M225.34,546.23 L225.34,528.67 L212.61,519.88 L199.88,528.67 L199.88,546.23 L212.61,555.02 Z" fill="#ecf4fb" stroke="#ecf4fb" stroke-width="4.4" stroke-linejoin="round"/>
<path d="M250.80,862.43 L250.80,844.87 L238.07,836.08 L225.34,844.87 L225.34,862.43 L238.07,871.22 Z" fill="#1f6eb3" stroke="#1f6eb3" stroke-width="4.4" stroke-linejoin="round"/>
<path d="M250.80,809.73 L250.80,792.17 L238.07,783.38 L225.34,792.17 L225.34,809.73 L238.07,818.52 Z" fill="#1b69af" stroke="#1b69af" stroke-width="4.4" stroke-linejoin="round"/>
<path d="M250.80,757.03 L250.80,739.47 L238.07,730.68 L225.34,739.47 L225.34,757.03 L238.07,765.82 Z" fill="#3383be" stroke="#3383be" stroke-width="4.4" stroke-linejoin="round"/>
<path d="M250.80,704.33 L250.80,686.77 L238.07,677.98 L225.34,686.77 L225.34,704.33 L238.07,713.12 Z" fill="#6aaed6" stroke="#6aaed6" stroke-width="4.4" stroke-linejoin="round"/>
<path d="M250.80,651.63 L250.80,634.07 L238.07,625.28 L225.34,634.07 L225.34,651.63 L238.07,660.42 Z" fill="#d8e7f5" stroke="#d8e7f5" stroke-width="4.4" stroke-linejoin="round"/>
<path d="M250.80,598.93 L250.80,581.37 L238.07,572.58 L225.34,581.37 L225.34,598.93 L238.07,607.72 Z" fill="#eef5fc" stroke="#eef5fc" stroke-width="4.4" stroke-linejoin="round"/>
<path d="M250.80,546.23 L250.80,528.67 L238.07,519.88 L225.34,528.67 L225.34,546.23 L238.07,555.02 Z" fill="#f3f8fe" stroke="#f3f8fe" stroke-width="4.4" stroke-linejoin="round"/>
<path d="M276.26,862.43 L276.26,844.87 L263.53,836.08 L250.80,844.87 L250.80,862.43 L263.53,871.22 Z" fill="#519ccc" stroke="#519ccc" stroke-width="4.4" stroke-linejoin="round"/>
<path d="M276.26,809.73 L276.26,792.17 L263.53,783.38 L250.80,792.17 L250.80,809.73 L263.53,818.52 Z" fill="#2070b4" stroke="#2070b4" stroke-width="4.4" stroke-linejoin="round"/>
<path d="M276.26,757.03 L276.26,739.47 L263.53,730.68 L250.80,739.47 L250.80,757.03 L263.53,765.82 Z" fill="#519ccc" stroke="#519ccc" stroke-width="4.4" stroke-linejoin="round"/>
<path d="M276.26,704.33 L276.26,686.77 L263.53,677.98 L250.80,686.77 L250.80,704.33 L263.53,713.12 Z" fill="#87bddc" stroke="#87bddc" stroke-width="4.4" stroke-linejoin="round"/>
<path d="M276.26,651.63 L276.26,634.07 L263.53,625.28 L250.80,634.07 L250.80,651.63 L263.53,660.42 Z" fill="#e3eef9" stroke="#e3eef9" stroke-width="4.4" stroke-linejoin="round"/>
<path d="M276.26,598.93 L276.26,581.37 L263.53,572.58 L250.80,581.37 L250.80,598.93 L263.53,607.72 Z" fill="#eff6fc" stroke="#eff6fc" stroke-width="4.4" stroke-linejoin="round"/>
<path d="M276.26,546.23 L276.26,528.67 L263.53,519.88 L250.80,528.67 L250.80,546.23 L263.53,555.02 Z" fill="#f5fafe" stroke="#f5fafe" stroke-width="4.4" stroke-linejoin="round"/>
<path d="M301.72,862.43 L301.72,844.87 L288.99,836.08 L276.26,844.87 L276.26,862.43 L288.99,871.22 Z" fill="#4a98c9" stroke="#4a98c9" stroke-width="4.4" stroke-linejoin="round"/>
<path d="M301.72,809.73 L301.72,792.17 L288.99,783.38 L276.26,792.17 L276.26,809.73 L288.99,818.52 Z" fill="#3989c1" stroke="#3989c1" stroke-width="4.4" stroke-linejoin="round"/>
<path d="M301.72,757.03 L301.72,739.47 L288.99,730.68 L276.26,739.47 L276.26,757.03 L288.99,765.82 Z" fill="#3383be" stroke="#3383be" stroke-width="4.4" stroke-linejoin="round"/>
<path d="M301.72,704.33 L301.72,686.77 L288.99,677.98 L276.26,686.77 L276.26,704.33 L288.99,713.12 Z" fill="#b0d2e7" stroke="#b0d2e7" stroke-width="4.4" stroke-linejoin="round"/>
<path d="M301.72,651.63 L301.72,634.07 L288.99,625.28 L276.26,634.07 L276.26,651.63 L288.99,660.42 Z" fill="#e5eff9" stroke="#e5eff9" stroke-width="4.4" stroke-linejoin="round"/>
<path d="M301.72,598.93 L301.72,581.37 L288.99,572.58 L276.26,581.37 L276.26,598.93 L288.99,607.72 Z" fill="#f2f7fd" stroke="#f2f7fd" stroke-width="4.4" stroke-linejoin="round"/>
<path d="M301.72,546.23 L301.72,528.67 L288.99,519.88 L276.26,528.67 L276.26,546.23 L288.99,555.02 Z" fill="#f5fafe" stroke="#f5fafe" stroke-width="4.4" stroke-linejoin="round"/>
<path d="M327.18,862.43 L327.18,844.87 L314.45,836.08 L301.72,844.87 L301.72,862.43 L314.45,871.22 Z" fill="#2e7ebc" stroke="#2e7ebc" stroke-width="4.4" stroke-linejoin="round"/>
<path d="M327.18,809.73 L327.18,792.17 L314.45,783.38 L301.72,792.17 L301.72,809.73 L314.45,818.52 Z" fill="#2979b9" stroke="#2979b9" stroke-width="4.4" stroke-linejoin="round"/>
<path d="M327.18,757.03 L327.18,739.47 L314.45,730.68 L301.72,739.47 L301.72,757.03 L314.45,765.82 Z" fill="#7fb9da" stroke="#7fb9da" stroke-width="4.4" stroke-linejoin="round"/>
<path d="M327.18,704.33 L327.18,686.77 L314.45,677.98 L301.72,686.77 L301.72,704.33 L314.45,713.12 Z" fill="#cadef0" stroke="#cadef0" stroke-width="4.4" stroke-linejoin="round"/>
<path d="M327.18,651.63 L327.18,634.07 L314.45,625.28 L301.72,634.07 L301.72,651.63 L314.45,660.42 Z" fill="#e7f1fa" stroke="#e7f1fa" stroke-width="4.4" stroke-linejoin="round"/>
<path d="M327.18,598.93 L327.18,581.37 L314.45,572.58 L301.72,581.37 L301.72,598.93 L314.45,607.72 Z" fill="#f2f7fd" stroke="#f2f7fd" stroke-width="4.4" stroke-linejoin="round"/>
<path d="M327.18,546.23 L327.18,528.67 L314.45,519.88 L301.72,528.67 L301.72,546.23 L314.45,555.02 Z" fill="#f3f8fe" stroke="#f3f8fe" stroke-width="4.4" stroke-linejoin="round"/>
<path d="M352.64,862.43 L352.64,844.87 L339.91,836.08 L327.18,844.87 L327.18,862.43 L339.91,871.22 Z" fill="#08488e" stroke="#08488e" stroke-width="4.4" stroke-linejoin="round"/>
<path d="M352.64,809.73 L352.64,792.17 L339.91,783.38 L327.18,792.17 L327.18,809.73 L339.91,818.52 Z" fill="#3b8bc2" stroke="#3b8bc2" stroke-width="4.4" stroke-linejoin="round"/>
<path d="M352.64,757.03 L352.64,739.47 L339.91,730.68 L327.18,739.47 L327.18,757.03 L339.91,765.82 Z" fill="#add0e6" stroke="#add0e6" stroke-width="4.4" stroke-linejoin="round"/>
<path d="M352.64,704.33 L352.64,686.77 L339.91,677.98 L327.18,686.77 L327.18,704.33 L339.91,713.12 Z" fill="#e3eef9" stroke="#e3eef9" stroke-width="4.4" stroke-linejoin="round"/>
<path d="M352.64,651.63 L352.64,634.07 L339.91,625.28 L327.18,634.07 L327.18,651.63 L339.91,660.42 Z" fill="#eef5fc" stroke="#eef5fc" stroke-width="4.4" stroke-linejoin="round"/>
<path d="M352.64,598.93 L352.64,581.37 L339.91,572.58 L327.18,581.37 L327.18,598.93 L339.91,607.72 Z" fill="#f2f7fd" stroke="#f2f7fd" stroke-width="4.4" stroke-linejoin="round"/>
<path d="M352.64,546.23 L352.64,528.67 L339.91,519.88 L327.18,528.67 L327.18,546.23 L339.91,555.02 Z" fill="#f5f9fe" stroke="#f5f9fe" stroke-width="4.4" stroke-linejoin="round"/>
<path d="M378.10,862.43 L378.10,844.87 L365.37,836.08 L352.64,844.87 L352.64,862.43 L365.37,871.22 Z" fill="#1764ab" stroke="#1764ab" stroke-width="4.4" stroke-linejoin="round"/>
<path d="M378.10,809.73 L378.10,792.17 L365.37,783.38 L352.64,792.17 L352.64,809.73 L365.37,818.52 Z" fill="#94c4df" stroke="#94c4df" stroke-width="4.4" stroke-linejoin="round"/>
<path d="M378.10,757.03 L378.10,739.47 L365.37,730.68 L352.64,739.47 L352.64,757.03 L365.37,765.82 Z" fill="#d9e8f5" stroke="#d9e8f5" stroke-width="4.4" stroke-linejoin="round"/>
<path d="M378.10,704.33 L378.10,686.77 L365.37,677.98 L352.64,686.77 L352.64,704.33 L365.37,713.12 Z" fill="#e3eef9" stroke="#e3eef9" stroke-width="4.4" stroke-linejoin="round"/>
<path d="M378.10,651.63 L378.10,634.07 L365.37,625.28 L352.64,634.07 L352.64,651.63 L365.37,660.42 Z" fill="#f3f8fe" stroke="#f3f8fe" stroke-width="4.4" stroke-linejoin="round"/>
<path d="M378.10,598.93 L378.10,581.37 L365.37,572.58 L352.64,581.37 L352.64,598.93 L365.37,607.72 Z" fill="#f2f7fd" stroke="#f2f7fd" stroke-width="4.4" stroke-linejoin="round"/>
<path d="M378.10,546.23 L378.10,528.67 L365.37,519.88 L352.64,528.67 L352.64,546.23 L365.37,555.02 Z" fill="#f5f9fe" stroke="#f5f9fe" stroke-width="4.4" stroke-linejoin="round"/>
<path d="M403.56,862.43 L403.56,844.87 L390.83,836.08 L378.10,844.87 L378.10,862.43 L390.83,871.22 Z" fill="#2979b9" stroke="#2979b9" stroke-width="4.4" stroke-linejoin="round"/>
<path d="M403.56,809.73 L403.56,792.17 L390.83,783.38 L378.10,792.17 L378.10,809.73 L390.83,818.52 Z" fill="#9cc9e1" stroke="#9cc9e1" stroke-width="4.4" stroke-linejoin="round"/>
<path d="M403.56,757.03 L403.56,739.47 L390.83,730.68 L378.10,739.47 L378.10,757.03 L390.83,765.82 Z" fill="#d9e8f5" stroke="#d9e8f5" stroke-width="4.4" stroke-linejoin="round"/>
<path d="M403.56,704.33 L403.56,686.77 L390.83,677.98 L378.10,686.77 L378.10,704.33 L390.83,713.12 Z" fill="#e7f1fa" stroke="#e7f1fa" stroke-width="4.4" stroke-linejoin="round"/>
<path d="M403.56,651.63 L403.56,634.07 L390.83,625.28 L378.10,634.07 L378.10,651.63 L390.83,660.42 Z" fill="#f5f9fe" stroke="#f5f9fe" stroke-width="4.4" stroke-linejoin="round"/>
<path d="M403.56,598.93 L403.56,581.37 L390.83,572.58 L378.10,581.37 L378.10,598.93 L390.83,607.72 Z" fill="#eff6fc" stroke="#eff6fc" stroke-width="4.4" stroke-linejoin="round"/>
<path d="M403.56,546.23 L403.56,528.67 L390.83,519.88 L378.10,528.67 L378.10,546.23 L390.83,555.02 Z" fill="#f5fafe" stroke="#f5fafe" stroke-width="4.4" stroke-linejoin="round"/>
<path d="M429.02,862.43 L429.02,844.87 L416.29,836.08 L403.56,844.87 L403.56,862.43 L416.29,871.22 Z" fill="#5ba3d0" stroke="#5ba3d0" stroke-width="4.4" stroke-linejoin="round"/>
<path d="M429.02,809.73 L429.02,792.17 L416.29,783.38 L403.56,792.17 L403.56,809.73 L416.29,818.52 Z" fill="#d9e8f5" stroke="#d9e8f5" stroke-width="4.4" stroke-linejoin="round"/>
<path d="M429.02,757.03 L429.02,739.47 L416.29,730.68 L403.56,739.47 L403.56,757.03 L416.29,765.82 Z" fill="#e5eff9" stroke="#e5eff9" stroke-width="4.4" stroke-linejoin="round"/>
<path d="M429.02,704.33 L429.02,686.77 L416.29,677.98 L403.56,686.77 L403.56,704.33 L416.29,713.12 Z" fill="#f5fafe" stroke="#f5fafe" stroke-width="4.4" stroke-linejoin="round"/>
<path d="M429.02,651.63 L429.02,634.07 L416.29,625.28 L403.56,634.07 L403.56,651.63 L416.29,660.42 Z" fill="#f5fafe" stroke="#f5fafe" stroke-width="4.4" stroke-linejoin="round"/>
<path d="M429.02,598.93 L429.02,581.37 L416.29,572.58 L403.56,581.37 L403.56,598.93 L416.29,607.72 Z" fill="#f5fafe" stroke="#f5fafe" stroke-width="4.4" stroke-linejoin="round"/>
<path d="M429.02,546.23 L429.02,528.67 L416.29,519.88 L403.56,528.67 L403.56,546.23 L416.29,555.02 Z" fill="#f5fafe" stroke="#f5fafe" stroke-width="4.4" stroke-linejoin="round"/>
<path d="M454.48,862.43 L454.48,844.87 L441.75,836.08 L429.02,844.87 L429.02,862.43 L441.75,871.22 Z" fill="#c8dcf0" stroke="#c8dcf0" stroke-width="4.4" stroke-linejoin="round"/>
<path d="M454.48,809.73 L454.48,792.17 L441.75,783.38 L429.02,792.17 L429.02,809.73 L441.75,818.52 Z" fill="#e5eff9" stroke="#e5eff9" stroke-width="4.4" stroke-linejoin="round"/>
<path d="M454.48,757.03 L454.48,739.47 L441.75,730.68 L429.02,739.47 L429.02,757.03 L441.75,765.82 Z" fill="#f3f8fe" stroke="#f3f8fe" stroke-width="4.4" stroke-linejoin="round"/>
<path d="M454.48,704.33 L454.48,686.77 L441.75,677.98 L429.02,686.77 L429.02,704.33 L441.75,713.12 Z" fill="#eef5fc" stroke="#eef5fc" stroke-width="4.4" stroke-linejoin="round"/>
<path d="M454.48,651.63 L454.48,634.07 L441.75,625.28 L429.02,634.07 L429.02,651.63 L441.75,660.42 Z" fill="#f5fafe" stroke="#f5fafe" stroke-width="4.4" stroke-linejoin="round"/>
<path d="M454.48,598.93 L454.48,581.37 L441.75,572.58 L429.02,581.37 L429.02,598.93 L441.75,607.72 Z" fill="#f2f7fd" stroke="#f2f7fd" stroke-width="4.4" stroke-linejoin="round"/>
<path d="M454.48,546.23 L454.48,528.67 L441.75,519.88 L429.02,528.67 L429.02,546.23 L441.75,555.02 Z" fill="#f5fafe" stroke="#f5fafe" stroke-width="4.4" stroke-linejoin="round"/>
<path d="M479.94,862.43 L479.94,844.87 L467.21,836.08 L454.48,844.87 L454.48,862.43 L467.21,871.22 Z" fill="#e3eef9" stroke="#e3eef9" stroke-width="4.4" stroke-linejoin="round"/>
<path d="M479.94,809.73 L479.94,792.17 L467.21,783.38 L454.48,792.17 L454.48,809.73 L467.21,818.52 Z" fill="#eef5fc" stroke="#eef5fc" stroke-width="4.4" stroke-linejoin="round"/>
<path d="M479.94,757.03 L479.94,739.47 L467.21,730.68 L454.48,739.47 L454.48,757.03 L467.21,765.82 Z" fill="#f5fafe" stroke="#f5fafe" stroke-width="4.4" stroke-linejoin="round"/>
<path d="M479.94,704.33 L479.94,686.77 L467.21,677.98 L454.48,686.77 L454.48,704.33 L467.21,713.12 Z" fill="#f5fafe" stroke="#f5fafe" stroke-width="4.4" stroke-linejoin="round"/>
<path d="M479.94,651.63 L479.94,634.07 L467.21,625.28 L454.48,634.07 L454.48,651.63 L467.21,660.42 Z" fill="#eff6fc" stroke="#eff6fc" stroke-width="4.4" stroke-linejoin="round"/>
<path d="M479.94,598.93 L479.94,581.37 L467.21,572.58 L454.48,581.37 L454.48,598.93 L467.21,607.72 Z" fill="#f2f7fd" stroke="#f2f7fd" stroke-width="4.4" stroke-linejoin="round"/>
<path d="M479.94,546.23 L479.94,528.67 L467.21,519.88 L454.48,528.67 L454.48,546.23 L467.21,555.02 Z" fill="#f5fafe" stroke="#f5fafe" stroke-width="4.4" stroke-linejoin="round"/>
<path d="M505.40,862.43 L505.40,844.87 L492.67,836.08 L479.94,844.87 L479.94,862.43 L492.67,871.22 Z" fill="#f3f8fe" stroke="#f3f8fe" stroke-width="4.4" stroke-linejoin="round"/>
<path d="M505.40,809.73 L505.40,792.17 L492.67,783.38 L479.94,792.17 L479.94,809.73 L492.67,818.52 Z" fill="#f3f8fe" stroke="#f3f8fe" stroke-width="4.4" stroke-linejoin="round"/>
<path d="M505.40,757.03 L505.40,739.47 L492.67,730.68 L479.94,739.47 L479.94,757.03 L492.67,765.82 Z" fill="#f5fafe" stroke="#f5fafe" stroke-width="4.4" stroke-linejoin="round"/>
<path d="M505.40,704.33 L505.40,686.77 L492.67,677.98 L479.94,686.77 L479.94,704.33 L492.67,713.12 Z" fill="#f5fafe" stroke="#f5fafe" stroke-width="4.4" stroke-linejoin="round"/>
<path d="M505.40,651.63 L505.40,634.07 L492.67,625.28 L479.94,634.07 L479.94,651.63 L492.67,660.42 Z" fill="#f5fafe" stroke="#f5fafe" stroke-width="4.4" stroke-linejoin="round"/>
<path d="M505.40,598.93 L505.40,581.37 L492.67,572.58 L479.94,581.37 L479.94,598.93 L492.67,607.72 Z" fill="#f5fafe" stroke="#f5fafe" stroke-width="4.4" stroke-linejoin="round"/>
<path d="M505.40,546.23 L505.40,528.67 L492.67,519.88 L479.94,528.67 L479.94,546.23 L492.67,555.02 Z" fill="#f5fafe" stroke="#f5fafe" stroke-width="4.4" stroke-linejoin="round"/>
<path d="M530.86,862.43 L530.86,844.87 L518.13,836.08 L505.40,844.87 L505.40,862.43 L518.13,871.22 Z" fill="#f5fafe" stroke="#f5fafe" stroke-width="4.4" stroke-linejoin="round"/>
<path d="M530.86,809.73 L530.86,792.17 L518.13,783.38 L505.40,792.17 L505.40,809.73 L518.13,818.52 Z" fill="#f5fafe" stroke="#f5fafe" stroke-width="4.4" stroke-linejoin="round"/>
<path d="M530.86,757.03 L530.86,739.47 L518.13,730.68 L505.40,739.47 L505.40,757.03 L518.13,765.82 Z" fill="#f5fafe" stroke="#f5fafe" stroke-width="4.4" stroke-linejoin="round"/>
<path d="M530.86,704.33 L530.86,686.77 L518.13,677.98 L505.40,686.77 L505.40,704.33 L518.13,713.12 Z" fill="#f5fafe" stroke="#f5fafe" stroke-width="4.4" stroke-linejoin="round"/>
<path d="M530.86,651.63 L530.86,634.07 L518.13,625.28 L505.40,634.07 L505.40,651.63 L518.13,660.42 Z" fill="#f5fafe" stroke="#f5fafe" stroke-width="4.4" stroke-linejoin="round"/>
<path d="M530.86,598.93 L530.86,581.37 L518.13,572.58 L505.40,581.37 L505.40,598.93 L518.13,607.72 Z" fill="#f5fafe" stroke="#f5fafe" stroke-width="4.4" stroke-linejoin="round"/>
<path d="M530.86,546.23 L530.86,528.67 L518.13,519.88 L505.40,528.67 L505.40,546.23 L518.13,555.02 Z" fill="#f5fafe" stroke="#f5fafe" stroke-width="4.4" stroke-linejoin="round"/>
</g>
<rect x="124.0" y="517.3" width="410.40" height="362.70" fill="none" stroke="#000" stroke-width="2.4"/>
<line x1="124.00" y1="880.0" x2="124.00" y2="857.5" stroke="#000" stroke-width="4.4"/>
<line x1="124.00" y1="517.3" x2="124.00" y2="539.8" stroke="#000" stroke-width="4.4"/>
<line x1="329.20" y1="880.0" x2="329.20" y2="857.5" stroke="#000" stroke-width="4.4"/>
<line x1="329.20" y1="517.3" x2="329.20" y2="539.8" stroke="#000" stroke-width="4.4"/>
<line x1="534.40" y1="880.0" x2="534.40" y2="857.5" stroke="#000" stroke-width="4.4"/>
<line x1="534.40" y1="517.3" x2="534.40" y2="539.8" stroke="#000" stroke-width="4.4"/>
<line x1="175.30" y1="880.0" x2="175.30" y2="866.5" stroke="#000" stroke-width="2.4"/>
<line x1="175.30" y1="517.3" x2="175.30" y2="530.8" stroke="#000" stroke-width="2.4"/>
<line x1="226.60" y1="880.0" x2="226.60" y2="866.5" stroke="#000" stroke-width="2.4"/>
<line x1="226.60" y1="517.3" x2="226.60" y2="530.8" stroke="#000" stroke-width="2.4"/>
<line x1="277.90" y1="880.0" x2="277.90" y2="866.5" stroke="#000" stroke-width="2.4"/>
<line x1="277.90" y1="517.3" x2="277.90" y2="530.8" stroke="#000" stroke-width="2.4"/>
<line x1="380.50" y1="880.0" x2="380.50" y2="866.5" stroke="#000" stroke-width="2.4"/>
<line x1="380.50" y1="517.3" x2="380.50" y2="530.8" stroke="#000" stroke-width="2.4"/>
<line x1="431.80" y1="880.0" x2="431.80" y2="866.5" stroke="#000" stroke-width="2.4"/>
<line x1="431.80" y1="517.3" x2="431.80" y2="530.8" stroke="#000" stroke-width="2.4"/>
<line x1="483.10" y1="880.0" x2="483.10" y2="866.5" stroke="#000" stroke-width="2.4"/>
<line x1="483.10" y1="517.3" x2="483.10" y2="530.8" stroke="#000" stroke-width="2.4"/>
<line x1="124.0" y1="880.00" x2="146.5" y2="880.00" stroke="#000" stroke-width="4.4"/>
<line x1="534.4" y1="880.00" x2="511.9" y2="880.00" stroke="#000" stroke-width="4.4"/>
<line x1="124.0" y1="789.33" x2="146.5" y2="789.33" stroke="#000" stroke-width="4.4"/>
<line x1="534.4" y1="789.33" x2="511.9" y2="789.33" stroke="#000" stroke-width="4.4"/>
<line x1="124.0" y1="698.65" x2="146.5" y2="698.65" stroke="#000" stroke-width="4.4"/>
<line x1="534.4" y1="698.65" x2="511.9" y2="698.65" stroke="#000" stroke-width="4.4"/>
<line x1="124.0" y1="607.97" x2="146.5" y2="607.97" stroke="#000" stroke-width="4.4"/>
<line x1="534.4" y1="607.97" x2="511.9" y2="607.97" stroke="#000" stroke-width="4.4"/>
<line x1="124.0" y1="517.30" x2="146.5" y2="517.30" stroke="#000" stroke-width="4.4"/>
<line x1="534.4" y1="517.30" x2="511.9" y2="517.30" stroke="#000" stroke-width="4.4"/>
<line x1="124.0" y1="861.87" x2="137.5" y2="861.87" stroke="#000" stroke-width="2.4"/>
<line x1="534.4" y1="861.87" x2="520.9" y2="861.87" stroke="#000" stroke-width="2.4"/>
<line x1="124.0" y1="843.73" x2="137.5" y2="843.73" stroke="#000" stroke-width="2.4"/>
<line x1="534.4" y1="843.73" x2="520.9" y2="843.73" stroke="#000" stroke-width="2.4"/>
<line x1="124.0" y1="825.60" x2="137.5" y2="825.60" stroke="#000" stroke-width="2.4"/>
<line x1="534.4" y1="825.60" x2="520.9" y2="825.60" stroke="#000" stroke-width="2.4"/>
<line x1="124.0" y1="807.46" x2="137.5" y2="807.46" stroke="#000" stroke-width="2.4"/>
<line x1="534.4" y1="807.46" x2="520.9" y2="807.46" stroke="#000" stroke-width="2.4"/>
<line x1="124.0" y1="771.19" x2="137.5" y2="771.19" stroke="#000" stroke-width="2.4"/>
<line x1="534.4" y1="771.19" x2="520.9" y2="771.19" stroke="#000" stroke-width="2.4"/>
<line x1="124.0" y1="753.05" x2="137.5" y2="753.05" stroke="#000" stroke-width="2.4"/>
<line x1="534.4" y1="753.05" x2="520.9" y2="753.05" stroke="#000" stroke-width="2.4"/>
<line x1="124.0" y1="734.92" x2="137.5" y2="734.92" stroke="#000" stroke-width="2.4"/>
<line x1="534.4" y1="734.92" x2="520.9" y2="734.92" stroke="#000" stroke-width="2.4"/>
<line x1="124.0" y1="716.78" x2="137.5" y2="716.78" stroke="#000" stroke-width="2.4"/>
<line x1="534.4" y1="716.78" x2="520.9" y2="716.78" stroke="#000" stroke-width="2.4"/>
<line x1="124.0" y1="680.51" x2="137.5" y2="680.51" stroke="#000" stroke-width="2.4"/>
<line x1="534.4" y1="680.51" x2="520.9" y2="680.51" stroke="#000" stroke-width="2.4"/>
<line x1="124.0" y1="662.38" x2="137.5" y2="662.38" stroke="#000" stroke-width="2.4"/>
<line x1="534.4" y1="662.38" x2="520.9" y2="662.38" stroke="#000" stroke-width="2.4"/>
<line x1="124.0" y1="644.25" x2="137.5" y2="644.25" stroke="#000" stroke-width="2.4"/>
<line x1="534.4" y1="644.25" x2="520.9" y2="644.25" stroke="#000" stroke-width="2.4"/>
<line x1="124.0" y1="626.11" x2="137.5" y2="626.11" stroke="#000" stroke-width="2.4"/>
<line x1="534.4" y1="626.11" x2="520.9" y2="626.11" stroke="#000" stroke-width="2.4"/>
<line x1="124.0" y1="589.84" x2="137.5" y2="589.84" stroke="#000" stroke-width="2.4"/>
<line x1="534.4" y1="589.84" x2="520.9" y2="589.84" stroke="#000" stroke-width="2.4"/>
<line x1="124.0" y1="571.70" x2="137.5" y2="571.70" stroke="#000" stroke-width="2.4"/>
<line x1="534.4" y1="571.70" x2="520.9" y2="571.70" stroke="#000" stroke-width="2.4"/>
<line x1="124.0" y1="553.57" x2="137.5" y2="553.57" stroke="#000" stroke-width="2.4"/>
<line x1="534.4" y1="553.57" x2="520.9" y2="553.57" stroke="#000" stroke-width="2.4"/>
<line x1="124.0" y1="535.43" x2="137.5" y2="535.43" stroke="#000" stroke-width="2.4"/>
<line x1="534.4" y1="535.43" x2="520.9" y2="535.43" stroke="#000" stroke-width="2.4"/>
<g clip-path="url(#c3)">
<path d="M600.3,879.7 L600.3,536.1 L632.1,536.1 L632.1,535.1 L665.8,535.1 L665.8,561.2 L698.7,561.2 L698.7,593.1 L731.8,593.1 L731.8,646.3 L762.9,646.3 L762.9,696.9 L795.9,696.9 L795.9,733.8 L828.7,733.8 L828.7,787.4 L862.7,787.4 L862.7,825.1 L895.9,825.1 L895.9,853.1 L926.9,853.1 L926.9,869.2 L959.6,869.2 L959.6,877.3 L992.9,877.3 L992.9,877.9 L1025.6,877.9 L1025.6,879.7 Z" fill="#0c539e"/>
</g>
<line x1="828.5" y1="879.7" x2="828.5" y2="517.4" stroke="#000" stroke-width="4.4" stroke-dasharray="15.4 6.7"/>
<path d="M1010.5,879.7 L600.3,879.7 L600.3,517.4 L1010.5,517.4" fill="none" stroke="#000" stroke-width="2.4"/>
<line x1="1010.5" y1="516.1999999999999" x2="1010.5" y2="880.9000000000001" stroke="#000" stroke-width="1.6"/>
<line x1="600.30" y1="879.7" x2="600.30" y2="857.2" stroke="#000" stroke-width="4.4"/>
<line x1="600.30" y1="517.4" x2="600.30" y2="539.9" stroke="#000" stroke-width="4.4"/>
<line x1="805.40" y1="879.7" x2="805.40" y2="857.2" stroke="#000" stroke-width="4.4"/>
<line x1="805.40" y1="517.4" x2="805.40" y2="539.9" stroke="#000" stroke-width="4.4"/>
<line x1="1010.50" y1="879.7" x2="1010.50" y2="857.2" stroke="#000" stroke-width="4.4"/>
<line x1="1010.50" y1="517.4" x2="1010.50" y2="539.9" stroke="#000" stroke-width="4.4"/>
<line x1="651.57" y1="879.7" x2="651.57" y2="866.2" stroke="#000" stroke-width="2.4"/>
<line x1="651.57" y1="517.4" x2="651.57" y2="530.9" stroke="#000" stroke-width="2.4"/>
<line x1="702.85" y1="879.7" x2="702.85" y2="866.2" stroke="#000" stroke-width="2.4"/>
<line x1="702.85" y1="517.4" x2="702.85" y2="530.9" stroke="#000" stroke-width="2.4"/>
<line x1="754.12" y1="879.7" x2="754.12" y2="866.2" stroke="#000" stroke-width="2.4"/>
<line x1="754.12" y1="517.4" x2="754.12" y2="530.9" stroke="#000" stroke-width="2.4"/>
<line x1="856.67" y1="879.7" x2="856.67" y2="866.2" stroke="#000" stroke-width="2.4"/>
<line x1="856.67" y1="517.4" x2="856.67" y2="530.9" stroke="#000" stroke-width="2.4"/>
<line x1="907.95" y1="879.7" x2="907.95" y2="866.2" stroke="#000" stroke-width="2.4"/>
<line x1="907.95" y1="517.4" x2="907.95" y2="530.9" stroke="#000" stroke-width="2.4"/>
<line x1="959.23" y1="879.7" x2="959.23" y2="866.2" stroke="#000" stroke-width="2.4"/>
<line x1="959.23" y1="517.4" x2="959.23" y2="530.9" stroke="#000" stroke-width="2.4"/>
<rect x="287.7" y="1051.5" width="444.20" height="65.50" fill="url(#cg)"/>
<rect x="287.7" y="1051.5" width="444.20" height="65.50" fill="none" stroke="#000" stroke-width="2.4"/>
<line x1="287.70" y1="1117.0" x2="287.70" y2="1094.5" stroke="#000" stroke-width="4.4"/>
<line x1="287.70" y1="1051.5" x2="287.70" y2="1074.0" stroke="#000" stroke-width="4.4"/>
<line x1="495.86" y1="1117.0" x2="495.86" y2="1094.5" stroke="#000" stroke-width="4.4"/>
<line x1="495.86" y1="1051.5" x2="495.86" y2="1074.0" stroke="#000" stroke-width="4.4"/>
<line x1="704.02" y1="1117.0" x2="704.02" y2="1094.5" stroke="#000" stroke-width="4.4"/>
<line x1="704.02" y1="1051.5" x2="704.02" y2="1074.0" stroke="#000" stroke-width="4.4"/>
<line x1="339.74" y1="1117.0" x2="339.74" y2="1104.2" stroke="#000" stroke-width="2.4"/>
<line x1="339.74" y1="1051.5" x2="339.74" y2="1064.3" stroke="#000" stroke-width="2.4"/>
<line x1="391.78" y1="1117.0" x2="391.78" y2="1104.2" stroke="#000" stroke-width="2.4"/>
<line x1="391.78" y1="1051.5" x2="391.78" y2="1064.3" stroke="#000" stroke-width="2.4"/>
<line x1="443.82" y1="1117.0" x2="443.82" y2="1104.2" stroke="#000" stroke-width="2.4"/>
<line x1="443.82" y1="1051.5" x2="443.82" y2="1064.3" stroke="#000" stroke-width="2.4"/>
<line x1="547.90" y1="1117.0" x2="547.90" y2="1104.2" stroke="#000" stroke-width="2.4"/>
<line x1="547.90" y1="1051.5" x2="547.90" y2="1064.3" stroke="#000" stroke-width="2.4"/>
<line x1="599.94" y1="1117.0" x2="599.94" y2="1104.2" stroke="#000" stroke-width="2.4"/>
<line x1="599.94" y1="1051.5" x2="599.94" y2="1064.3" stroke="#000" stroke-width="2.4"/>
<line x1="651.98" y1="1117.0" x2="651.98" y2="1104.2" stroke="#000" stroke-width="2.4"/>
<line x1="651.98" y1="1051.5" x2="651.98" y2="1064.3" stroke="#000" stroke-width="2.4"/>
<text x="0" y="0" transform="translate(131.29,421.50) scale(0.2032,0.2167)" style="font-family:&quot;Liberation Serif&quot;,serif;font-size:200px;">4</text>
<text x="0" y="0" transform="translate(335.62,421.50) scale(0.2200,0.2098)" style="font-family:&quot;Liberation Serif&quot;,serif;font-size:200px;">2</text>
<text x="0" y="0" transform="translate(524.28,422.08) scale(0.2155,0.2104)" style="font-family:&quot;Liberation Serif&quot;,serif;font-size:200px;">0</text>
<text x="0" y="0" transform="translate(131.18,937.20) scale(0.2043,0.2144)" style="font-family:&quot;Liberation Serif&quot;,serif;font-size:200px;">4</text>
<text x="0" y="0" transform="translate(335.62,937.30) scale(0.2200,0.2098)" style="font-family:&quot;Liberation Serif&quot;,serif;font-size:200px;">2</text>
<text x="0" y="0" transform="translate(524.16,937.18) scale(0.2179,0.2111)" style="font-family:&quot;Liberation Serif&quot;,serif;font-size:200px;">0</text>
<text x="0" y="0" transform="translate(76.39,895.58) scale(0.2143,0.2096)" style="font-family:&quot;Liberation Serif&quot;,serif;font-size:200px;">0</text>
<text x="0" y="0" transform="translate(75.49,804.90) scale(0.2183,0.2083)" style="font-family:&quot;Liberation Serif&quot;,serif;font-size:200px;">1</text>
<text x="0" y="0" transform="translate(75.67,714.20) scale(0.2250,0.2083)" style="font-family:&quot;Liberation Serif&quot;,serif;font-size:200px;">2</text>
<text x="0" y="0" transform="translate(75.47,623.98) scale(0.2232,0.2119)" style="font-family:&quot;Liberation Serif&quot;,serif;font-size:200px;">3</text>
<text x="0" y="0" transform="translate(76.37,532.80) scale(0.2086,0.2159)" style="font-family:&quot;Liberation Serif&quot;,serif;font-size:200px;">4</text>
<text x="0" y="0" transform="translate(589.64,937.28) scale(0.2202,0.2119)" style="font-family:&quot;Liberation Serif&quot;,serif;font-size:200px;">0</text>
<text x="0" y="0" transform="translate(795.42,937.30) scale(0.2200,0.2098)" style="font-family:&quot;Liberation Serif&quot;,serif;font-size:200px;">2</text>
<text x="0" y="0" transform="translate(1000.08,937.00) scale(0.2043,0.2144)" style="font-family:&quot;Liberation Serif&quot;,serif;font-size:200px;">4</text>
<text x="0" y="0" transform="translate(277.54,1174.47) scale(0.2202,0.2126)" style="font-family:&quot;Liberation Serif&quot;,serif;font-size:200px;">0</text>
<text x="0" y="0" transform="translate(465.00,1174.08) scale(0.2117,0.2089)" style="font-family:&quot;Liberation Serif&quot;,serif;font-size:200px;">200</text>
<text x="0" y="0" transform="translate(672.96,1174.08) scale(0.2111,0.2104)" style="font-family:&quot;Liberation Serif&quot;,serif;font-size:200px;">400</text>
<text x="0" y="0" transform="translate(220.01,1242.00) scale(0.2982,0.3000)" style="font-family:&quot;Liberation Serif&quot;,serif;font-size:200px;" stroke="#fff" stroke-width="2.01" stroke-linejoin="round">C</text>
<text x="0" y="0" transform="translate(257.37,1241.26) scale(0.2917,0.2677)" style="font-family:&quot;Liberation Serif&quot;,serif;font-size:200px;" stroke="#fff" stroke-width="2.15" stroke-linejoin="round">o</text>
<text x="0" y="0" transform="translate(285.86,1241.07) scale(0.3149,0.2660)" style="font-family:&quot;Liberation Serif&quot;,serif;font-size:200px;" stroke="#fff" stroke-width="2.07" stroke-linejoin="round">u</text>
<text x="0" y="0" transform="translate(315.11,1241.10) scale(0.2968,0.2579)" style="font-family:&quot;Liberation Serif&quot;,serif;font-size:200px;" stroke="#fff" stroke-width="2.16" stroke-linejoin="round">n</text>
<text x="0" y="0" transform="translate(343.28,1241.01) scale(0.3094,0.2974)" style="font-family:&quot;Liberation Serif&quot;,serif;font-size:200px;" stroke="#fff" stroke-width="1.98" stroke-linejoin="round">t</text>
<text x="0" y="0" transform="translate(362.96,1241.56) scale(0.2921,0.2708)" style="font-family:&quot;Liberation Serif&quot;,serif;font-size:200px;" stroke="#fff" stroke-width="2.13" stroke-linejoin="round">s</text>
<text x="0" y="0" transform="translate(405.97,1245.97) scale(0.1886,0.3345)" style="font-family:&quot;Liberation Serif&quot;,serif;font-size:200px;" stroke="#fff" stroke-width="2.29" stroke-linejoin="round">[</text>
<text x="0" y="0" transform="translate(418.26,1241.30) scale(0.2716,0.3030)" style="font-family:&quot;Liberation Serif&quot;,serif;font-size:200px;" stroke="#fff" stroke-width="2.09" stroke-linejoin="round">A</text>
<text x="0" y="0" transform="translate(457.60,1241.34) scale(0.3000,0.2600)" style="font-family:&quot;Liberation Serif&quot;,serif;font-size:200px;" stroke="#fff" stroke-width="2.14" stroke-linejoin="round">r</text>
<text x="0" y="0" transform="translate(480.00,1241.64) scale(0.2946,0.2794)" style="font-family:&quot;Liberation Serif&quot;,serif;font-size:200px;" stroke="#fff" stroke-width="2.09" stroke-linejoin="round">b</text>
<text x="0" y="0" transform="translate(508.92,1241.60) scale(0.2458,0.2811)" style="font-family:&quot;Liberation Serif&quot;,serif;font-size:200px;" stroke="#fff" stroke-width="2.28" stroke-linejoin="round">i</text>
<text x="0" y="0" transform="translate(523.05,1241.29) scale(0.3264,0.3035)" style="font-family:&quot;Liberation Serif&quot;,serif;font-size:200px;" stroke="#fff" stroke-width="1.91" stroke-linejoin="round">t</text>
<text x="0" y="0" transform="translate(543.82,1241.33) scale(0.2951,0.2653)" style="font-family:&quot;Liberation Serif&quot;,serif;font-size:200px;" stroke="#fff" stroke-width="2.14" stroke-linejoin="round">r</text>
<text x="0" y="0" transform="translate(564.76,1241.75) scale(0.3203,0.2771)" style="font-family:&quot;Liberation Serif&quot;,serif;font-size:200px;" stroke="#fff" stroke-width="2.01" stroke-linejoin="round">a</text>
<text x="0" y="0" transform="translate(591.78,1241.33) scale(0.3049,0.2653)" style="font-family:&quot;Liberation Serif&quot;,serif;font-size:200px;" stroke="#fff" stroke-width="2.10" stroke-linejoin="round">r</text>
<text x="0" y="0" transform="translate(611.82,1241.06) scale(0.2876,0.2615)" style="font-family:&quot;Liberation Serif&quot;,serif;font-size:200px;" stroke="#fff" stroke-width="2.19" stroke-linejoin="round">y</text>
<text x="0" y="0" transform="translate(659.50,1242.31) scale(0.2743,0.2962)" style="font-family:&quot;Liberation Serif&quot;,serif;font-size:200px;" stroke="#fff" stroke-width="2.10" stroke-linejoin="round">U</text>
<text x="0" y="0" transform="translate(699.72,1241.80) scale(0.2946,0.2621)" style="font-family:&quot;Liberation Serif&quot;,serif;font-size:200px;" stroke="#fff" stroke-width="2.16" stroke-linejoin="round">n</text>
<text x="0" y="0" transform="translate(728.81,1241.80) scale(0.2479,0.2795)" style="font-family:&quot;Liberation Serif&quot;,serif;font-size:200px;" stroke="#fff" stroke-width="2.28" stroke-linejoin="round">i</text>
<text x="0" y="0" transform="translate(742.54,1242.29) scale(0.3321,0.3061)" style="font-family:&quot;Liberation Serif&quot;,serif;font-size:200px;" stroke="#fff" stroke-width="1.88" stroke-linejoin="round">t</text>
<text x="0" y="0" transform="translate(762.69,1242.34) scale(0.3016,0.2781)" style="font-family:&quot;Liberation Serif&quot;,serif;font-size:200px;" stroke="#fff" stroke-width="2.07" stroke-linejoin="round">s</text>
<text x="0" y="0" transform="translate(785.10,1245.98) scale(0.1711,0.3339)" style="font-family:&quot;Liberation Serif&quot;,serif;font-size:200px;" stroke="#fff" stroke-width="2.38" stroke-linejoin="round">]</text>
<g transform="translate(312,458)">
<path d="M17.3,3.35 C22.5,3.35 26.8,8 26.8,14 L26.8,24.5 C26.8,26.2 27.3,27.3 28,27.9 L25.4,27.7 C24.9,26.6 24.5,25.6 24.1,24.6 C21,26.8 15.5,28.24 11.65,28.24 C6,28.24 3.18,24 3.18,18.35 C3.18,10 10,3.35 17.3,3.35 Z" fill="#000"/>
<path d="M17.65,4.75 C20.5,4.75 22.6,8 22.6,12 L22.6,22.4 C20.5,25.2 15.5,27.0 11.65,27.0 C8.5,27.0 7.0,24.5 7.0,19.77 C7.0,12 12,4.75 17.65,4.75 Z" fill="#fff"/>
<path d="M26.0,22 C26.6,26.3 27.8,27.6 29.2,27.6 C30.6,27.6 31.5,26.3 32.1,24.4" fill="none" stroke="#000" stroke-width="1.45" stroke-linecap="round"/>
<path d="M26.3,18.6 C28.3,15.2 30.9,10.5 32.8,6.2" fill="none" stroke="#000" stroke-width="1.4" stroke-linecap="round"/>
</g>
<g transform="translate(312,974.2)">
<path d="M17.3,3.35 C22.5,3.35 26.8,8 26.8,14 L26.8,24.5 C26.8,26.2 27.3,27.3 28,27.9 L25.4,27.7 C24.9,26.6 24.5,25.6 24.1,24.6 C21,26.8 15.5,28.24 11.65,28.24 C6,28.24 3.18,24 3.18,18.35 C3.18,10 10,3.35 17.3,3.35 Z" fill="#000"/>
<path d="M17.65,4.75 C20.5,4.75 22.6,8 22.6,12 L22.6,22.4 C20.5,25.2 15.5,27.0 11.65,27.0 C8.5,27.0 7.0,24.5 7.0,19.77 C7.0,12 12,4.75 17.65,4.75 Z" fill="#fff"/>
<path d="M26.0,22 C26.6,26.3 27.8,27.6 29.2,27.6 C30.6,27.6 31.5,26.3 32.1,24.4" fill="none" stroke="#000" stroke-width="1.45" stroke-linecap="round"/>
<path d="M26.3,18.6 C28.3,15.2 30.9,10.5 32.8,6.2" fill="none" stroke="#000" stroke-width="1.4" stroke-linecap="round"/>
</g>
<text x="0" y="0" transform="translate(712.88,988.00) scale(0.2047,0.1915)" style="font-family:&quot;Liberation Serif&quot;,serif;font-size:200px;" stroke="#fff" stroke-width="3.03" stroke-linejoin="round">m</text>
<text x="0" y="0" transform="translate(745.25,988.00) scale(0.1875,0.1917)" style="font-family:&quot;Liberation Serif&quot;,serif;font-size:200px;" stroke="#fff" stroke-width="3.16" stroke-linejoin="round">i</text>
<text x="0" y="0" transform="translate(755.84,988.00) scale(0.2140,0.1895)" style="font-family:&quot;Liberation Serif&quot;,serif;font-size:200px;" stroke="#fff" stroke-width="2.97" stroke-linejoin="round">n</text>
<text x="0" y="0" transform="translate(714.12,1021.00) scale(0.2118,0.1916)" style="font-family:&quot;Liberation Serif&quot;,serif;font-size:200px;font-style:italic" stroke="#fff" stroke-width="2.97" stroke-linejoin="round">D</text>
<text x="0" y="0" transform="translate(800.20,1012.37) scale(0.1864,0.3382)" style="font-family:&quot;Liberation Serif&quot;,serif;font-size:200px;" stroke="#fff" stroke-width="2.29" stroke-linejoin="round">[</text>
<text x="0" y="0" transform="translate(812.64,1008.29) scale(0.2831,0.3030)" style="font-family:&quot;Liberation Serif&quot;,serif;font-size:200px;" stroke="#fff" stroke-width="2.05" stroke-linejoin="round">G</text>
<text x="0" y="0" transform="translate(853.86,1007.64) scale(0.2680,0.2689)" style="font-family:&quot;Liberation Serif&quot;,serif;font-size:200px;" stroke="#fff" stroke-width="2.23" stroke-linejoin="round">y</text>
<text x="0" y="0" transform="translate(881.85,1007.63) scale(0.3115,0.2684)" style="font-family:&quot;Liberation Serif&quot;,serif;font-size:200px;" stroke="#fff" stroke-width="2.07" stroke-linejoin="round">r</text>
<text x="0" y="0" transform="translate(902.57,1012.37) scale(0.1756,0.3382)" style="font-family:&quot;Liberation Serif&quot;,serif;font-size:200px;" stroke="#fff" stroke-width="2.34" stroke-linejoin="round">]</text>
<path d="M703.4,974.0 L696.8,1000 C696.3,1004.5 698.3,1008 701.2,1008 C704.5,1008 708,1004 710.1,999.5 C710.3,998.9 709.5,998.5 709.1,999.0 C707.3,1002.8 704,1006.3 701.6,1006.3 C700,1006.3 699.6,1004.5 700.1,1001.5 L706.7,974.8 C706.7,973.5 705.8,973.1 705.1,973.1 C704.2,973.1 703.6,973.5 703.4,974.0 Z" fill="#000"/><line x1="694.9" y1="984.5" x2="710.3" y2="984.5" stroke="#000" stroke-width="1.6" stroke-linecap="round"/>
<g transform="matrix(0 -1 1 0 -962.7 1505)">
<text x="0" y="0" transform="translate(712.88,988.00) scale(0.2047,0.1915)" style="font-family:&quot;Liberation Serif&quot;,serif;font-size:200px;" stroke="#fff" stroke-width="3.03" stroke-linejoin="round">m</text>
<text x="0" y="0" transform="translate(745.25,988.00) scale(0.1875,0.1917)" style="font-family:&quot;Liberation Serif&quot;,serif;font-size:200px;" stroke="#fff" stroke-width="3.16" stroke-linejoin="round">i</text>
<text x="0" y="0" transform="translate(755.84,988.00) scale(0.2140,0.1895)" style="font-family:&quot;Liberation Serif&quot;,serif;font-size:200px;" stroke="#fff" stroke-width="2.97" stroke-linejoin="round">n</text>
<text x="0" y="0" transform="translate(714.12,1021.00) scale(0.2118,0.1916)" style="font-family:&quot;Liberation Serif&quot;,serif;font-size:200px;font-style:italic" stroke="#fff" stroke-width="2.97" stroke-linejoin="round">D</text>
<text x="0" y="0" transform="translate(800.20,1012.37) scale(0.1864,0.3382)" style="font-family:&quot;Liberation Serif&quot;,serif;font-size:200px;" stroke="#fff" stroke-width="2.29" stroke-linejoin="round">[</text>
<text x="0" y="0" transform="translate(812.64,1008.29) scale(0.2831,0.3030)" style="font-family:&quot;Liberation Serif&quot;,serif;font-size:200px;" stroke="#fff" stroke-width="2.05" stroke-linejoin="round">G</text>
<text x="0" y="0" transform="translate(853.86,1007.64) scale(0.2680,0.2689)" style="font-family:&quot;Liberation Serif&quot;,serif;font-size:200px;" stroke="#fff" stroke-width="2.23" stroke-linejoin="round">y</text>
<text x="0" y="0" transform="translate(881.85,1007.63) scale(0.3115,0.2684)" style="font-family:&quot;Liberation Serif&quot;,serif;font-size:200px;" stroke="#fff" stroke-width="2.07" stroke-linejoin="round">r</text>
<text x="0" y="0" transform="translate(902.57,1012.37) scale(0.1756,0.3382)" style="font-family:&quot;Liberation Serif&quot;,serif;font-size:200px;" stroke="#fff" stroke-width="2.34" stroke-linejoin="round">]</text>
<path d="M703.4,974.0 L696.8,1000 C696.3,1004.5 698.3,1008 701.2,1008 C704.5,1008 708,1004 710.1,999.5 C710.3,998.9 709.5,998.5 709.1,999.0 C707.3,1002.8 704,1006.3 701.6,1006.3 C700,1006.3 699.6,1004.5 700.1,1001.5 L706.7,974.8 C706.7,973.5 705.8,973.1 705.1,973.1 C704.2,973.1 703.6,973.5 703.4,974.0 Z" fill="#000"/><line x1="694.9" y1="984.5" x2="710.3" y2="984.5" stroke="#000" stroke-width="1.6" stroke-linecap="round"/>
</g>
<rect x="101.3" y="410.2" width="25.90" height="2.20" fill="#000"/>
<rect x="306.5" y="410.0" width="25.60" height="2.20" fill="#000"/>
<rect x="101.4" y="925.5" width="25.80" height="2.20" fill="#000"/>
<rect x="306.5" y="925.9" width="25.60" height="2.20" fill="#000"/>
</svg>
</body></html>
